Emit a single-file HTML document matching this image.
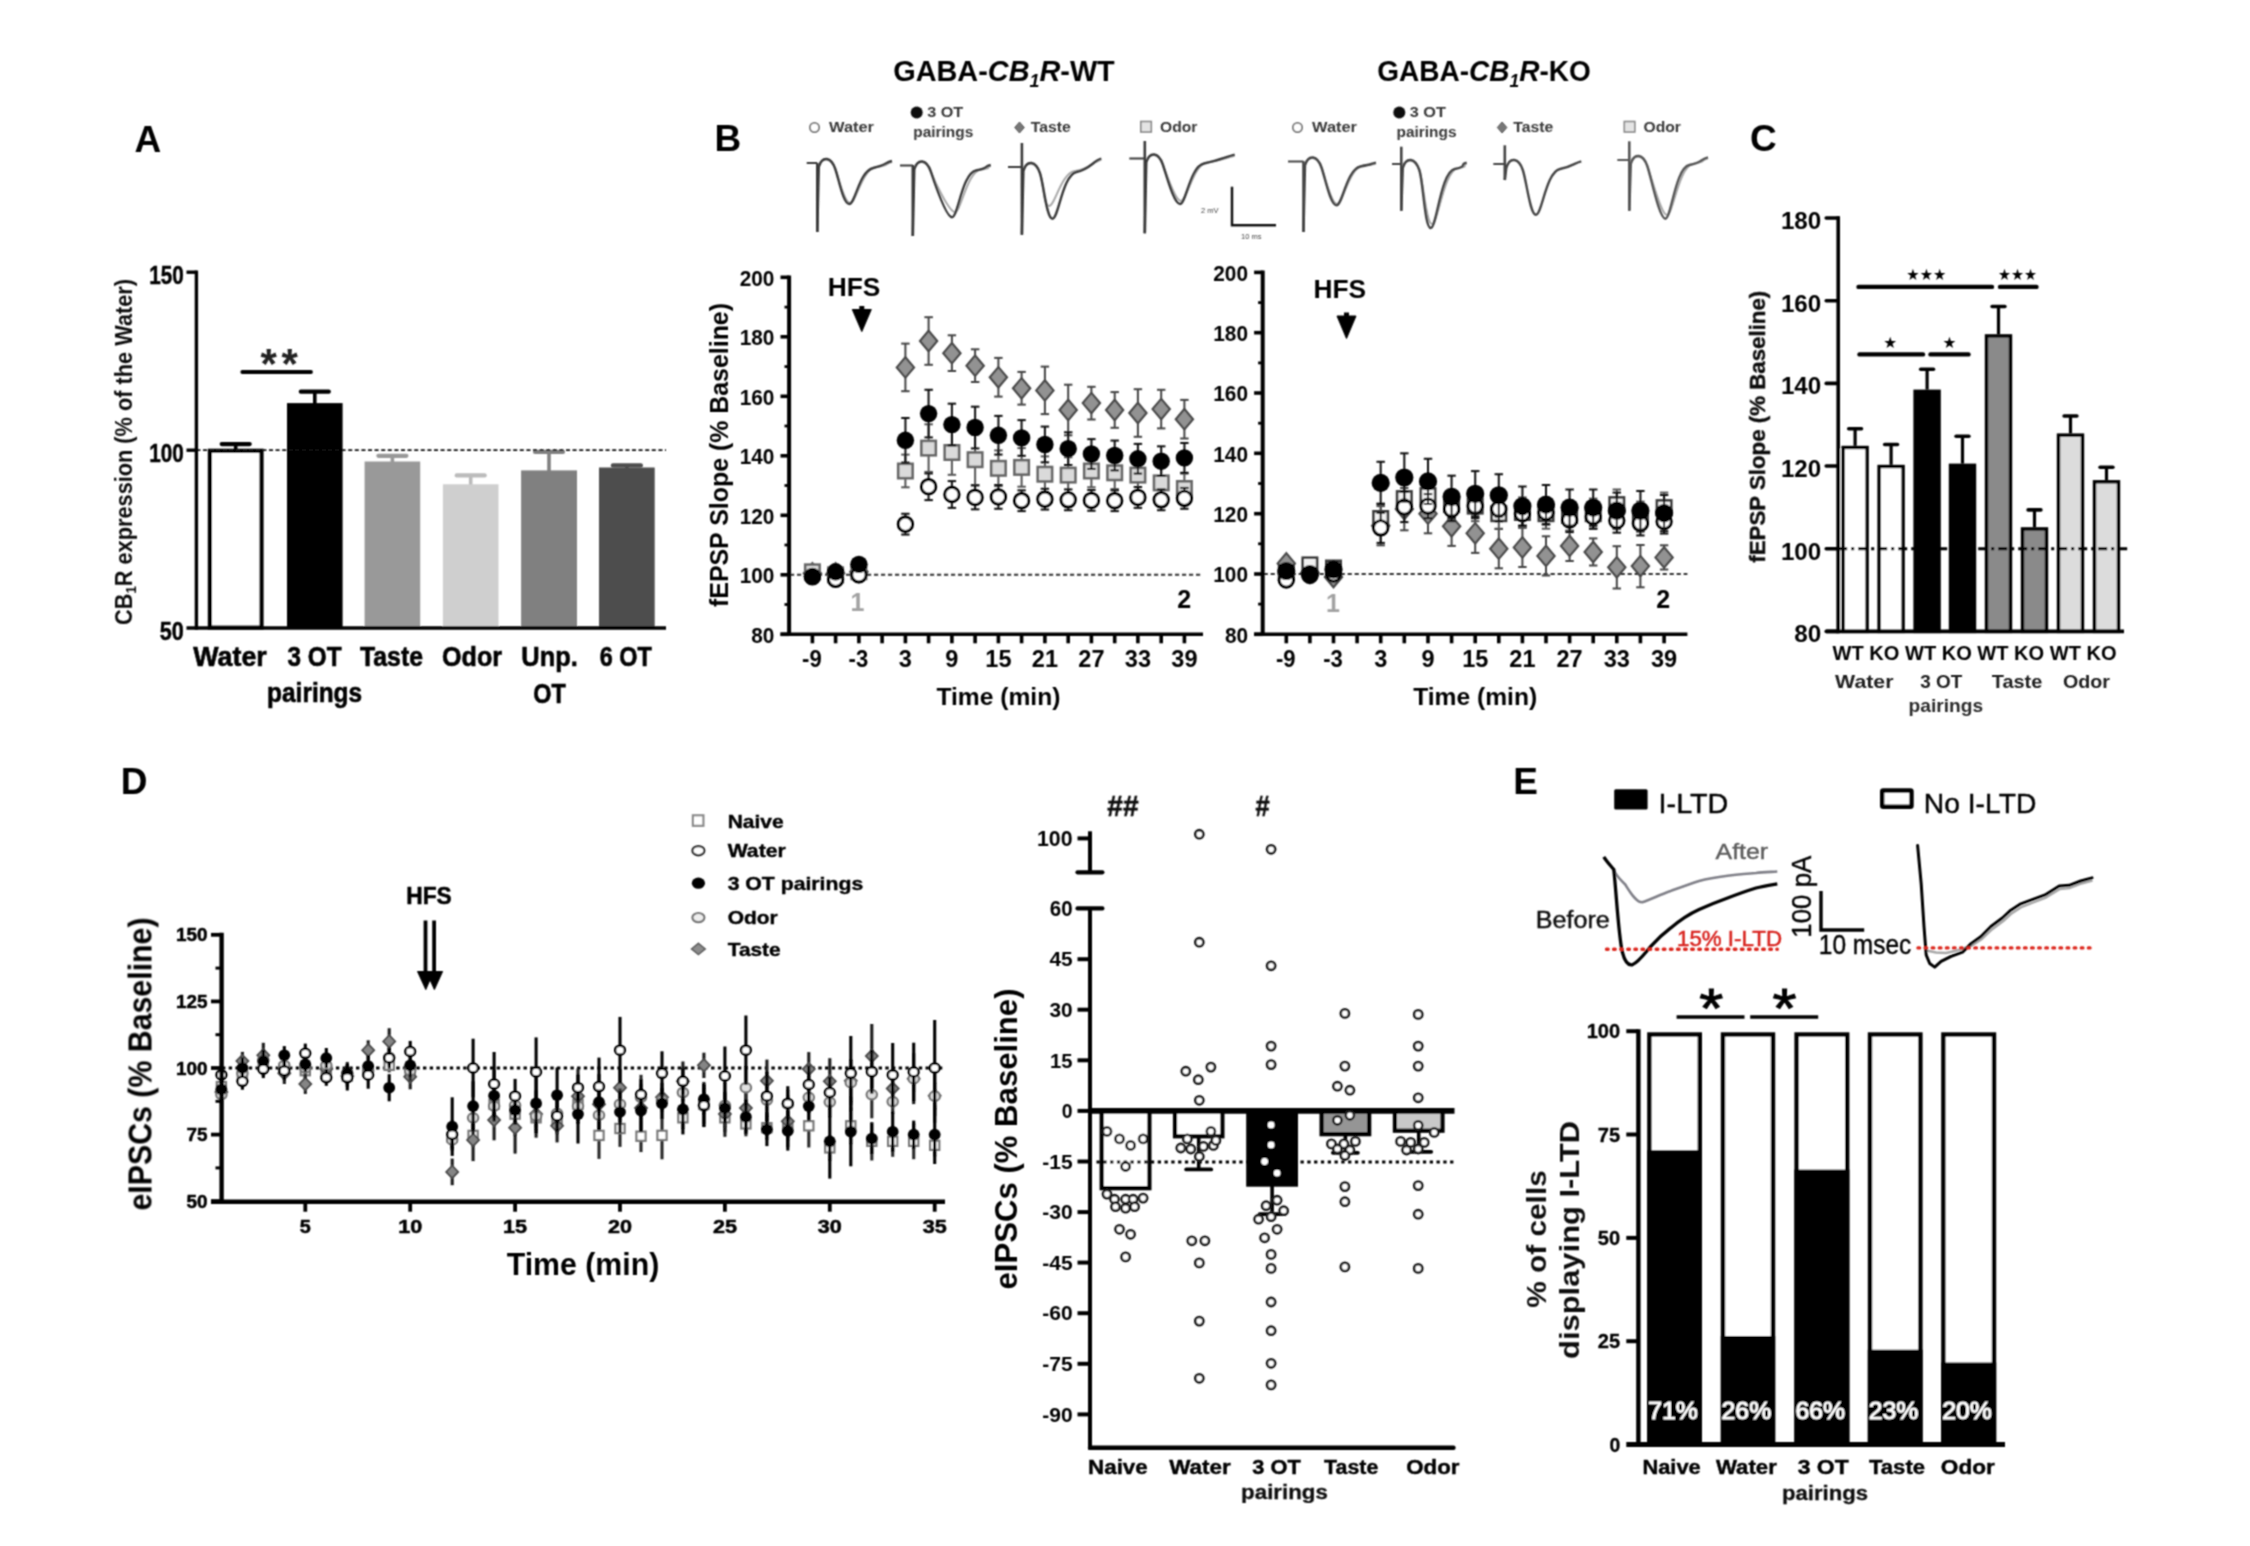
<!DOCTYPE html>
<html lang="en"><head><meta charset="utf-8"><title>Figure</title>
<style>
html,body{margin:0;padding:0;background:#fff;}
body{width:2250px;height:1546px;overflow:hidden;}
svg{display:block;font-family:"Liberation Sans", "DejaVu Sans", sans-serif;}
</style></head><body>
<svg width="2250" height="1546" viewBox="0 0 2250 1546">
<defs><filter id="soft" x="0" y="0" width="2250" height="1546" filterUnits="userSpaceOnUse"><feConvolveMatrix order="3" kernelMatrix="1 2 1 2 5 2 1 2 1" divisor="17" edgeMode="duplicate" preserveAlpha="false"/></filter></defs>
<rect x="0" y="0" width="2250" height="1546" fill="#fff"/>
<g filter="url(#soft)">
<text x="134.5" y="152.0" font-size="37" text-anchor="start" fill="#000" font-weight="bold">A</text>
<text x="714.6" y="151.2" font-size="37" text-anchor="start" fill="#000" font-weight="bold">B</text>
<text x="1750.0" y="151.2" font-size="37" text-anchor="start" fill="#000" font-weight="bold">C</text>
<text x="120.8" y="793.5" font-size="37" text-anchor="start" fill="#000" font-weight="bold">D</text>
<text x="1513.3" y="793.5" font-size="37" text-anchor="start" fill="#000" font-weight="bold">E</text>
<line x1="235.7" y1="444.1" x2="235.7" y2="450.7" stroke="#000" stroke-width="3.6" />
<line x1="221.7" y1="444.1" x2="249.7" y2="444.1" stroke="#000" stroke-width="4.2" stroke-linecap="round"/>
<rect x="209.9" y="450.8" width="51.6" height="176.7" fill="#fff" stroke="#000" stroke-width="4.2" />
<line x1="314.8" y1="391.7" x2="314.8" y2="405.1" stroke="#000" stroke-width="3.6" />
<line x1="300.8" y1="391.7" x2="328.8" y2="391.7" stroke="#000" stroke-width="4.2" stroke-linecap="round"/>
<rect x="287.0" y="403.1" width="55.6" height="224.9" fill="#000" />
<line x1="392.4" y1="455.8" x2="392.4" y2="463.5" stroke="#999" stroke-width="3.6" />
<line x1="378.4" y1="455.8" x2="406.4" y2="455.8" stroke="#999" stroke-width="4.2" stroke-linecap="round"/>
<rect x="364.6" y="461.5" width="55.6" height="166.5" fill="#999" />
<line x1="470.7" y1="475.4" x2="470.7" y2="486.3" stroke="#bbb" stroke-width="3.6" />
<line x1="456.7" y1="475.4" x2="484.7" y2="475.4" stroke="#bbb" stroke-width="4.2" stroke-linecap="round"/>
<rect x="442.9" y="484.3" width="55.6" height="143.7" fill="#cfcfcf" />
<line x1="549.0" y1="451.9" x2="549.0" y2="472.4" stroke="#808080" stroke-width="3.6" />
<line x1="535.0" y1="451.9" x2="563.0" y2="451.9" stroke="#808080" stroke-width="4.2" stroke-linecap="round"/>
<rect x="521.1" y="470.4" width="55.9" height="157.6" fill="#808080" />
<line x1="626.9" y1="465.4" x2="626.9" y2="469.5" stroke="#4d4d4d" stroke-width="3.6" />
<line x1="612.9" y1="465.4" x2="640.9" y2="465.4" stroke="#4d4d4d" stroke-width="4.2" stroke-linecap="round"/>
<rect x="599.0" y="467.5" width="55.7" height="160.5" fill="#4d4d4d" />
<line x1="196.4" y1="450.2" x2="666.0" y2="450.2" stroke="#111" stroke-width="1.8" stroke-dasharray="4 2.6"/>
<line x1="196.4" y1="270.5" x2="196.4" y2="629.7" stroke="#000" stroke-width="3.4" />
<line x1="186.5" y1="628.0" x2="666.0" y2="628.0" stroke="#000" stroke-width="3.6" />
<line x1="186.5" y1="272.2" x2="196.4" y2="272.2" stroke="#000" stroke-width="3.4" />
<line x1="186.5" y1="450.2" x2="196.4" y2="450.2" stroke="#000" stroke-width="3.4" />
<text x="183.8" y="284.2" font-size="26" text-anchor="end" fill="#000" font-weight="bold" textLength="34.5" lengthAdjust="spacingAndGlyphs" stroke="#000" stroke-width="0.5">150</text>
<text x="183.8" y="462.2" font-size="26" text-anchor="end" fill="#000" font-weight="bold" textLength="34.5" lengthAdjust="spacingAndGlyphs" stroke="#000" stroke-width="0.5">100</text>
<text x="183.8" y="640.0" font-size="26" text-anchor="end" fill="#000" font-weight="bold" textLength="24.0" lengthAdjust="spacingAndGlyphs" stroke="#000" stroke-width="0.5">50</text>
<line x1="242.3" y1="372.0" x2="311.0" y2="372.0" stroke="#000" stroke-width="3.8" stroke-linecap="round"/>
<text x="268.8" y="377.8" font-size="42" text-anchor="middle" fill="#222" font-weight="bold">*</text>
<text x="289.6" y="377.8" font-size="42" text-anchor="middle" fill="#222" font-weight="bold">*</text>
<text x="230.0" y="665.8" font-size="27" text-anchor="middle" fill="#000" font-weight="bold" textLength="73.4" lengthAdjust="spacingAndGlyphs" stroke="#000" stroke-width="0.6">Water</text>
<text x="314.6" y="665.8" font-size="27" text-anchor="middle" fill="#000" font-weight="bold" textLength="54.0" lengthAdjust="spacingAndGlyphs" stroke="#000" stroke-width="0.6">3 OT</text>
<text x="391.5" y="665.8" font-size="27" text-anchor="middle" fill="#000" font-weight="bold" textLength="63.0" lengthAdjust="spacingAndGlyphs" stroke="#000" stroke-width="0.6">Taste</text>
<text x="472.0" y="665.8" font-size="27" text-anchor="middle" fill="#000" font-weight="bold" textLength="60.0" lengthAdjust="spacingAndGlyphs" stroke="#000" stroke-width="0.6">Odor</text>
<text x="549.6" y="665.8" font-size="27" text-anchor="middle" fill="#000" font-weight="bold" textLength="56.5" lengthAdjust="spacingAndGlyphs" stroke="#000" stroke-width="0.6">Unp.</text>
<text x="625.8" y="665.8" font-size="27" text-anchor="middle" fill="#000" font-weight="bold" textLength="52.0" lengthAdjust="spacingAndGlyphs" stroke="#000" stroke-width="0.6">6 OT</text>
<text x="314.6" y="702.3" font-size="27" text-anchor="middle" fill="#000" font-weight="bold" textLength="95.0" lengthAdjust="spacingAndGlyphs" stroke="#000" stroke-width="0.6">pairings</text>
<text x="549.6" y="702.8" font-size="27" text-anchor="middle" fill="#000" font-weight="bold" textLength="32.5" lengthAdjust="spacingAndGlyphs" stroke="#000" stroke-width="0.6">OT</text>
<text x="131.8" y="452.0" font-size="23" text-anchor="middle" fill="#111" font-weight="bold" textLength="346.0" lengthAdjust="spacingAndGlyphs" transform="rotate(-90 131.8 452.0)">CB<tspan font-size="14" dy="4">1</tspan><tspan dy="-4">R expression (% of the Water)</tspan></text>
<text x="1004.0" y="81.3" font-size="29" text-anchor="middle" fill="#000" font-weight="bold" textLength="221.5" lengthAdjust="spacingAndGlyphs">GABA-<tspan font-style="italic">CB<tspan font-size="18" dy="6">1</tspan><tspan dy="-6">R</tspan></tspan>-WT</text>
<text x="1484.0" y="81.3" font-size="29" text-anchor="middle" fill="#000" font-weight="bold" textLength="213.5" lengthAdjust="spacingAndGlyphs">GABA-<tspan font-style="italic">CB<tspan font-size="18" dy="6">1</tspan><tspan dy="-6">R</tspan></tspan>-KO</text>
<path d="M819.3 163.0 C825.3 157.0 831.3 159.0 835.3 169.0 S844.0 203.0 850.0 203.0 S862.0 169.0 876.0 167.0 S884.0 164.0 892.0 162.0" fill="none" stroke="#aaa" stroke-width="2" />
<line x1="806.7" y1="163.0" x2="817.3" y2="163.0" stroke="#3a3a3a" stroke-width="2" />
<line x1="817.3" y1="163.0" x2="817.3" y2="232.0" stroke="#3a3a3a" stroke-width="2.6" />
<path d="M817.3 232.0 L818.8 167.0 C822.3 155.0 831.3 157.0 835.3 169.0 S843.3 204.0 849.3 204.0 S859.3 171.0 873.3 168.0 S884.0 163.0 892.0 161.0" fill="none" stroke="#3a3a3a" stroke-width="2.4" />
<path d="M914.8 165.5 C920.8 159.5 926.8 161.5 930.8 171.5 S949.0 212.0 955.0 212.0 S967.0 171.5 981.0 169.5 S982.7 168.0 990.7 166.0" fill="none" stroke="#aaa" stroke-width="2" />
<line x1="900.0" y1="165.5" x2="912.8" y2="165.5" stroke="#3a3a3a" stroke-width="2" />
<line x1="912.8" y1="165.0" x2="912.8" y2="236.0" stroke="#3a3a3a" stroke-width="2.6" />
<path d="M912.8 236.0 L914.3 169.5 C917.8 157.5 926.8 159.5 930.8 171.5 S946.0 217.3 952.0 217.3 S962.0 173.5 976.0 170.5 S982.7 167.0 990.7 165.0" fill="none" stroke="#3a3a3a" stroke-width="2.4" />
<path d="M1023.9 167.0 C1029.9 161.0 1035.9 163.0 1039.9 173.0 S1043.0 206.0 1049.0 206.0 S1061.0 173.0 1075.0 171.0 S1093.3 161.7 1101.3 159.7" fill="none" stroke="#aaa" stroke-width="2" />
<line x1="1008.0" y1="167.0" x2="1021.9" y2="167.0" stroke="#3a3a3a" stroke-width="2" />
<line x1="1021.9" y1="143.0" x2="1021.9" y2="234.7" stroke="#3a3a3a" stroke-width="2.6" />
<path d="M1021.9 234.7 L1023.4 171.0 C1026.9 159.0 1035.9 161.0 1039.9 173.0 S1046.5 218.7 1052.5 218.7 S1062.5 175.0 1076.5 172.0 S1093.3 160.7 1101.3 158.7" fill="none" stroke="#3a3a3a" stroke-width="2.4" />
<path d="M1146.8 158.5 C1152.8 152.5 1158.8 154.5 1162.8 164.5 S1175.0 201.0 1181.0 201.0 S1193.0 164.5 1207.0 162.5 S1226.7 157.7 1234.7 155.7" fill="none" stroke="#aaa" stroke-width="2" />
<line x1="1129.3" y1="158.5" x2="1144.8" y2="158.5" stroke="#3a3a3a" stroke-width="2" />
<line x1="1144.8" y1="141.0" x2="1144.8" y2="233.3" stroke="#3a3a3a" stroke-width="2.6" />
<path d="M1144.8 233.3 L1146.3 162.5 C1149.8 150.5 1158.8 152.5 1162.8 164.5 S1174.0 204.0 1180.0 204.0 S1190.0 166.5 1204.0 163.5 S1226.7 156.7 1234.7 154.7" fill="none" stroke="#3a3a3a" stroke-width="2.4" />
<path d="M1305.5 161.5 C1311.5 155.5 1317.5 157.5 1321.5 167.5 S1331.0 204.0 1337.0 204.0 S1349.0 167.5 1363.0 165.5 S1368.0 165.7 1376.0 163.7" fill="none" stroke="#aaa" stroke-width="2" />
<line x1="1288.0" y1="161.5" x2="1303.5" y2="161.5" stroke="#444" stroke-width="2" />
<line x1="1303.5" y1="161.3" x2="1303.5" y2="232.0" stroke="#444" stroke-width="2.6" />
<path d="M1303.5 232.0 L1305.0 165.5 C1308.5 153.5 1317.5 155.5 1321.5 167.5 S1330.5 205.3 1336.5 205.3 S1346.5 169.5 1360.5 166.5 S1368.0 164.7 1376.0 162.7" fill="none" stroke="#444" stroke-width="2.4" />
<path d="M1403.3 164.0 C1409.3 158.0 1415.3 160.0 1419.3 170.0 S1426.0 224.0 1432.0 224.0 S1444.0 170.0 1458.0 168.0 S1458.7 165.7 1466.7 163.7" fill="none" stroke="#aaa" stroke-width="2" />
<line x1="1392.0" y1="164.0" x2="1401.3" y2="164.0" stroke="#444" stroke-width="2" />
<line x1="1401.3" y1="146.7" x2="1401.3" y2="210.7" stroke="#444" stroke-width="2.6" />
<path d="M1401.3 210.7 L1402.8 168.0 C1406.3 156.0 1415.3 158.0 1419.3 170.0 S1424.7 228.0 1430.7 228.0 S1440.7 172.0 1454.7 169.0 S1458.7 164.7 1466.7 162.7" fill="none" stroke="#444" stroke-width="2.4" />
<line x1="1493.3" y1="164.0" x2="1504.8" y2="164.0" stroke="#444" stroke-width="2" />
<line x1="1504.8" y1="145.3" x2="1504.8" y2="180.0" stroke="#444" stroke-width="2.6" />
<path d="M1504.8 180.0 L1506.3 168.0 C1509.8 156.0 1518.8 158.0 1522.8 170.0 S1530.0 214.7 1536.0 214.7 S1546.0 172.0 1560.0 169.0 S1573.3 163.3 1581.3 161.3" fill="none" stroke="#444" stroke-width="2.4" />
<path d="M1631.3 160.0 C1637.3 154.0 1643.3 156.0 1647.3 166.0 S1661.0 215.0 1667.0 215.0 S1679.0 166.0 1693.0 164.0 S1700.0 160.3 1708.0 158.3" fill="none" stroke="#aaa" stroke-width="2" />
<line x1="1617.3" y1="160.0" x2="1629.3" y2="160.0" stroke="#555" stroke-width="2" />
<line x1="1629.3" y1="141.3" x2="1629.3" y2="210.7" stroke="#555" stroke-width="2.6" />
<path d="M1629.3 210.7 L1630.8 164.0 C1634.3 152.0 1643.3 154.0 1647.3 166.0 S1659.3 218.7 1665.3 218.7 S1675.3 168.0 1689.3 165.0 S1700.0 159.3 1708.0 157.3" fill="none" stroke="#555" stroke-width="2.4" />
<path d="M1232 186.7 L1232 225.3 L1276 225.3" fill="none" stroke="#111" stroke-width="2.4" />
<text x="1201.0" y="213.0" font-size="7.5" text-anchor="start" fill="#444">2 mV</text>
<text x="1241.0" y="239.0" font-size="7.5" text-anchor="start" fill="#444">10 ms</text>
<circle cx="814.5" cy="127.5" r="4.6" fill="#fff" stroke="#777" stroke-width="1.8"/>
<text x="829.0" y="132.0" font-size="14.5" text-anchor="start" fill="#1a1a1a" font-weight="bold" textLength="45.0" lengthAdjust="spacingAndGlyphs" opacity="0.88">Water</text>
<circle cx="916.7" cy="112.5" r="6" fill="#111"/>
<text x="927.2" y="117.3" font-size="14.5" text-anchor="start" fill="#1a1a1a" font-weight="bold" textLength="36.0" lengthAdjust="spacingAndGlyphs" opacity="0.88">3 OT</text>
<text x="913.3" y="137.3" font-size="14.5" text-anchor="start" fill="#1a1a1a" font-weight="bold" textLength="60.0" lengthAdjust="spacingAndGlyphs" opacity="0.88">pairings</text>
<path d="M1019.5 122.0L1024.3 127.5L1019.5 133.0L1014.7 127.5Z" fill="#777" stroke="#555" stroke-width="1"/>
<text x="1030.7" y="132.0" font-size="14.5" text-anchor="start" fill="#1a1a1a" font-weight="bold" textLength="40.0" lengthAdjust="spacingAndGlyphs" opacity="0.88">Taste</text>
<rect x="1140.8" y="121.5" width="10.5" height="10.5" fill="#e4e4e4" stroke="#888" stroke-width="1.6" />
<text x="1160.0" y="132.0" font-size="14.5" text-anchor="start" fill="#1a1a1a" font-weight="bold" textLength="37.3" lengthAdjust="spacingAndGlyphs" opacity="0.88">Odor</text>
<circle cx="1297.5" cy="127.5" r="4.6" fill="#fff" stroke="#777" stroke-width="1.8"/>
<text x="1312.0" y="132.0" font-size="14.5" text-anchor="start" fill="#1a1a1a" font-weight="bold" textLength="45.0" lengthAdjust="spacingAndGlyphs" opacity="0.88">Water</text>
<circle cx="1399.3" cy="112.5" r="6" fill="#111"/>
<text x="1409.8" y="117.3" font-size="14.5" text-anchor="start" fill="#1a1a1a" font-weight="bold" textLength="36.0" lengthAdjust="spacingAndGlyphs" opacity="0.88">3 OT</text>
<text x="1396.5" y="137.3" font-size="14.5" text-anchor="start" fill="#1a1a1a" font-weight="bold" textLength="60.0" lengthAdjust="spacingAndGlyphs" opacity="0.88">pairings</text>
<path d="M1502.1 122.0L1506.9 127.5L1502.1 133.0L1497.3 127.5Z" fill="#777" stroke="#555" stroke-width="1"/>
<text x="1513.3" y="132.0" font-size="14.5" text-anchor="start" fill="#1a1a1a" font-weight="bold" textLength="40.0" lengthAdjust="spacingAndGlyphs" opacity="0.88">Taste</text>
<rect x="1624.3" y="121.5" width="10.5" height="10.5" fill="#e4e4e4" stroke="#888" stroke-width="1.6" />
<text x="1643.5" y="132.0" font-size="14.5" text-anchor="start" fill="#1a1a1a" font-weight="bold" textLength="37.3" lengthAdjust="spacingAndGlyphs" opacity="0.88">Odor</text>
<line x1="790.0" y1="574.8" x2="1203.0" y2="574.8" stroke="#333" stroke-width="2.0" stroke-dasharray="4.2 2.8"/>
<path d="M812.4 563.1L821.0 573.3L812.4 583.5L803.8 573.3Z" fill="#929292" stroke="#484848" stroke-width="2.2"/>
<path d="M835.6 563.1L844.2 573.3L835.6 583.5L827.0 573.3Z" fill="#929292" stroke="#484848" stroke-width="2.2"/>
<path d="M858.9 561.6L867.5 571.8L858.9 582.0L850.3 571.8Z" fill="#929292" stroke="#484848" stroke-width="2.2"/>
<line x1="905.4" y1="343.6" x2="905.4" y2="391.2" stroke="#444" stroke-width="2.0" />
<line x1="901.2" y1="343.6" x2="909.6" y2="343.6" stroke="#444" stroke-width="2.0" />
<line x1="901.2" y1="391.2" x2="909.6" y2="391.2" stroke="#444" stroke-width="2.0" />
<path d="M905.4 357.2L914.0 367.4L905.4 377.6L896.8 367.4Z" fill="#929292" stroke="#484848" stroke-width="2.2"/>
<line x1="928.6" y1="317.2" x2="928.6" y2="364.8" stroke="#444" stroke-width="2.0" />
<line x1="924.4" y1="317.2" x2="932.9" y2="317.2" stroke="#444" stroke-width="2.0" />
<line x1="924.4" y1="364.8" x2="932.9" y2="364.8" stroke="#444" stroke-width="2.0" />
<path d="M928.6 330.8L937.2 341.0L928.6 351.2L920.0 341.0Z" fill="#929292" stroke="#484848" stroke-width="2.2"/>
<line x1="951.9" y1="335.3" x2="951.9" y2="371.0" stroke="#444" stroke-width="2.0" />
<line x1="947.7" y1="335.3" x2="956.1" y2="335.3" stroke="#444" stroke-width="2.0" />
<line x1="947.7" y1="371.0" x2="956.1" y2="371.0" stroke="#444" stroke-width="2.0" />
<path d="M951.9 343.0L960.5 353.2L951.9 363.4L943.3 353.2Z" fill="#929292" stroke="#484848" stroke-width="2.2"/>
<line x1="975.1" y1="349.3" x2="975.1" y2="382.0" stroke="#444" stroke-width="2.0" />
<line x1="970.9" y1="349.3" x2="979.4" y2="349.3" stroke="#444" stroke-width="2.0" />
<line x1="970.9" y1="382.0" x2="979.4" y2="382.0" stroke="#444" stroke-width="2.0" />
<path d="M975.1 355.5L983.8 365.7L975.1 375.9L966.5 365.7Z" fill="#929292" stroke="#484848" stroke-width="2.2"/>
<line x1="998.4" y1="357.9" x2="998.4" y2="396.6" stroke="#444" stroke-width="2.0" />
<line x1="994.2" y1="357.9" x2="1002.6" y2="357.9" stroke="#444" stroke-width="2.0" />
<line x1="994.2" y1="396.6" x2="1002.6" y2="396.6" stroke="#444" stroke-width="2.0" />
<path d="M998.4 367.1L1007.0 377.3L998.4 387.5L989.8 377.3Z" fill="#929292" stroke="#484848" stroke-width="2.2"/>
<line x1="1021.6" y1="371.9" x2="1021.6" y2="404.6" stroke="#444" stroke-width="2.0" />
<line x1="1017.4" y1="371.9" x2="1025.8" y2="371.9" stroke="#444" stroke-width="2.0" />
<line x1="1017.4" y1="404.6" x2="1025.8" y2="404.6" stroke="#444" stroke-width="2.0" />
<path d="M1021.6 378.1L1030.2 388.3L1021.6 398.5L1013.0 388.3Z" fill="#929292" stroke="#484848" stroke-width="2.2"/>
<line x1="1044.9" y1="366.6" x2="1044.9" y2="414.1" stroke="#444" stroke-width="2.0" />
<line x1="1040.7" y1="366.6" x2="1049.1" y2="366.6" stroke="#444" stroke-width="2.0" />
<line x1="1040.7" y1="414.1" x2="1049.1" y2="414.1" stroke="#444" stroke-width="2.0" />
<path d="M1044.9 380.2L1053.5 390.4L1044.9 400.6L1036.3 390.4Z" fill="#929292" stroke="#484848" stroke-width="2.2"/>
<line x1="1068.2" y1="384.7" x2="1068.2" y2="435.3" stroke="#444" stroke-width="2.0" />
<line x1="1064.0" y1="384.7" x2="1072.4" y2="384.7" stroke="#444" stroke-width="2.0" />
<line x1="1064.0" y1="435.3" x2="1072.4" y2="435.3" stroke="#444" stroke-width="2.0" />
<path d="M1068.2 399.8L1076.8 410.0L1068.2 420.2L1059.6 410.0Z" fill="#929292" stroke="#484848" stroke-width="2.2"/>
<line x1="1091.4" y1="386.8" x2="1091.4" y2="419.5" stroke="#444" stroke-width="2.0" />
<line x1="1087.2" y1="386.8" x2="1095.6" y2="386.8" stroke="#444" stroke-width="2.0" />
<line x1="1087.2" y1="419.5" x2="1095.6" y2="419.5" stroke="#444" stroke-width="2.0" />
<path d="M1091.4 392.9L1100.0 403.1L1091.4 413.3L1082.8 403.1Z" fill="#929292" stroke="#484848" stroke-width="2.2"/>
<line x1="1114.7" y1="392.1" x2="1114.7" y2="427.8" stroke="#444" stroke-width="2.0" />
<line x1="1110.5" y1="392.1" x2="1118.9" y2="392.1" stroke="#444" stroke-width="2.0" />
<line x1="1110.5" y1="427.8" x2="1118.9" y2="427.8" stroke="#444" stroke-width="2.0" />
<path d="M1114.7 399.8L1123.2 410.0L1114.7 420.2L1106.1 410.0Z" fill="#929292" stroke="#484848" stroke-width="2.2"/>
<line x1="1137.9" y1="389.2" x2="1137.9" y2="436.8" stroke="#444" stroke-width="2.0" />
<line x1="1133.7" y1="389.2" x2="1142.1" y2="389.2" stroke="#444" stroke-width="2.0" />
<line x1="1133.7" y1="436.8" x2="1142.1" y2="436.8" stroke="#444" stroke-width="2.0" />
<path d="M1137.9 402.8L1146.5 413.0L1137.9 423.2L1129.3 413.0Z" fill="#929292" stroke="#484848" stroke-width="2.2"/>
<line x1="1161.2" y1="389.8" x2="1161.2" y2="428.4" stroke="#444" stroke-width="2.0" />
<line x1="1157.0" y1="389.8" x2="1165.4" y2="389.8" stroke="#444" stroke-width="2.0" />
<line x1="1157.0" y1="428.4" x2="1165.4" y2="428.4" stroke="#444" stroke-width="2.0" />
<path d="M1161.2 398.9L1169.8 409.1L1161.2 419.3L1152.6 409.1Z" fill="#929292" stroke="#484848" stroke-width="2.2"/>
<line x1="1184.4" y1="399.9" x2="1184.4" y2="438.5" stroke="#444" stroke-width="2.0" />
<line x1="1180.2" y1="399.9" x2="1188.6" y2="399.9" stroke="#444" stroke-width="2.0" />
<line x1="1180.2" y1="438.5" x2="1188.6" y2="438.5" stroke="#444" stroke-width="2.0" />
<path d="M1184.4 409.0L1193.0 419.2L1184.4 429.4L1175.8 419.2Z" fill="#929292" stroke="#484848" stroke-width="2.2"/>
<rect x="805.2" y="564.6" width="14.4" height="14.4" fill="#dadada" stroke="#666" stroke-width="2.6" />
<rect x="828.4" y="567.6" width="14.4" height="14.4" fill="#dadada" stroke="#666" stroke-width="2.6" />
<rect x="851.7" y="564.6" width="14.4" height="14.4" fill="#dadada" stroke="#666" stroke-width="2.6" />
<line x1="905.4" y1="454.6" x2="905.4" y2="487.3" stroke="#555" stroke-width="2.0" />
<line x1="901.2" y1="454.6" x2="909.6" y2="454.6" stroke="#555" stroke-width="2.0" />
<line x1="901.2" y1="487.3" x2="909.6" y2="487.3" stroke="#555" stroke-width="2.0" />
<rect x="898.2" y="463.8" width="14.4" height="14.4" fill="#dadada" stroke="#666" stroke-width="2.6" />
<line x1="928.6" y1="424.3" x2="928.6" y2="471.9" stroke="#555" stroke-width="2.0" />
<line x1="924.4" y1="424.3" x2="932.9" y2="424.3" stroke="#555" stroke-width="2.0" />
<line x1="924.4" y1="471.9" x2="932.9" y2="471.9" stroke="#555" stroke-width="2.0" />
<rect x="921.4" y="440.9" width="14.4" height="14.4" fill="#dadada" stroke="#666" stroke-width="2.6" />
<line x1="951.9" y1="430.2" x2="951.9" y2="474.8" stroke="#555" stroke-width="2.0" />
<line x1="947.7" y1="430.2" x2="956.1" y2="430.2" stroke="#555" stroke-width="2.0" />
<line x1="947.7" y1="474.8" x2="956.1" y2="474.8" stroke="#555" stroke-width="2.0" />
<rect x="944.7" y="445.3" width="14.4" height="14.4" fill="#dadada" stroke="#666" stroke-width="2.6" />
<line x1="975.1" y1="434.4" x2="975.1" y2="485.0" stroke="#555" stroke-width="2.0" />
<line x1="970.9" y1="434.4" x2="979.4" y2="434.4" stroke="#555" stroke-width="2.0" />
<line x1="970.9" y1="485.0" x2="979.4" y2="485.0" stroke="#555" stroke-width="2.0" />
<rect x="967.9" y="452.5" width="14.4" height="14.4" fill="#dadada" stroke="#666" stroke-width="2.6" />
<line x1="998.4" y1="450.4" x2="998.4" y2="486.1" stroke="#555" stroke-width="2.0" />
<line x1="994.2" y1="450.4" x2="1002.6" y2="450.4" stroke="#555" stroke-width="2.0" />
<line x1="994.2" y1="486.1" x2="1002.6" y2="486.1" stroke="#555" stroke-width="2.0" />
<rect x="991.2" y="461.1" width="14.4" height="14.4" fill="#dadada" stroke="#666" stroke-width="2.6" />
<line x1="1021.6" y1="448.1" x2="1021.6" y2="486.7" stroke="#555" stroke-width="2.0" />
<line x1="1017.4" y1="448.1" x2="1025.8" y2="448.1" stroke="#555" stroke-width="2.0" />
<line x1="1017.4" y1="486.7" x2="1025.8" y2="486.7" stroke="#555" stroke-width="2.0" />
<rect x="1014.4" y="460.2" width="14.4" height="14.4" fill="#dadada" stroke="#666" stroke-width="2.6" />
<line x1="1044.9" y1="456.4" x2="1044.9" y2="492.1" stroke="#555" stroke-width="2.0" />
<line x1="1040.7" y1="456.4" x2="1049.1" y2="456.4" stroke="#555" stroke-width="2.0" />
<line x1="1040.7" y1="492.1" x2="1049.1" y2="492.1" stroke="#555" stroke-width="2.0" />
<rect x="1037.7" y="467.0" width="14.4" height="14.4" fill="#dadada" stroke="#666" stroke-width="2.6" />
<line x1="1068.2" y1="457.3" x2="1068.2" y2="493.0" stroke="#555" stroke-width="2.0" />
<line x1="1064.0" y1="457.3" x2="1072.4" y2="457.3" stroke="#555" stroke-width="2.0" />
<line x1="1064.0" y1="493.0" x2="1072.4" y2="493.0" stroke="#555" stroke-width="2.0" />
<rect x="1061.0" y="467.9" width="14.4" height="14.4" fill="#dadada" stroke="#666" stroke-width="2.6" />
<line x1="1091.4" y1="454.6" x2="1091.4" y2="487.3" stroke="#555" stroke-width="2.0" />
<line x1="1087.2" y1="454.6" x2="1095.6" y2="454.6" stroke="#555" stroke-width="2.0" />
<line x1="1087.2" y1="487.3" x2="1095.6" y2="487.3" stroke="#555" stroke-width="2.0" />
<rect x="1084.2" y="463.8" width="14.4" height="14.4" fill="#dadada" stroke="#666" stroke-width="2.6" />
<line x1="1114.7" y1="456.4" x2="1114.7" y2="489.1" stroke="#555" stroke-width="2.0" />
<line x1="1110.5" y1="456.4" x2="1118.9" y2="456.4" stroke="#555" stroke-width="2.0" />
<line x1="1110.5" y1="489.1" x2="1118.9" y2="489.1" stroke="#555" stroke-width="2.0" />
<rect x="1107.5" y="465.6" width="14.4" height="14.4" fill="#dadada" stroke="#666" stroke-width="2.6" />
<line x1="1137.9" y1="458.8" x2="1137.9" y2="491.5" stroke="#555" stroke-width="2.0" />
<line x1="1133.7" y1="458.8" x2="1142.1" y2="458.8" stroke="#555" stroke-width="2.0" />
<line x1="1133.7" y1="491.5" x2="1142.1" y2="491.5" stroke="#555" stroke-width="2.0" />
<rect x="1130.7" y="467.9" width="14.4" height="14.4" fill="#dadada" stroke="#666" stroke-width="2.6" />
<line x1="1161.2" y1="468.0" x2="1161.2" y2="497.7" stroke="#555" stroke-width="2.0" />
<line x1="1157.0" y1="468.0" x2="1165.4" y2="468.0" stroke="#555" stroke-width="2.0" />
<line x1="1157.0" y1="497.7" x2="1165.4" y2="497.7" stroke="#555" stroke-width="2.0" />
<rect x="1154.0" y="475.7" width="14.4" height="14.4" fill="#dadada" stroke="#666" stroke-width="2.6" />
<line x1="1184.4" y1="473.6" x2="1184.4" y2="503.4" stroke="#555" stroke-width="2.0" />
<line x1="1180.2" y1="473.6" x2="1188.6" y2="473.6" stroke="#555" stroke-width="2.0" />
<line x1="1180.2" y1="503.4" x2="1188.6" y2="503.4" stroke="#555" stroke-width="2.0" />
<rect x="1177.2" y="481.3" width="14.4" height="14.4" fill="#dadada" stroke="#666" stroke-width="2.6" />
<ellipse cx="812.4" cy="576.3" rx="7.2" ry="7.2" fill="#fff" stroke="#000" stroke-width="2.9"/>
<ellipse cx="835.6" cy="579.3" rx="7.2" ry="7.2" fill="#fff" stroke="#000" stroke-width="2.9"/>
<ellipse cx="858.9" cy="574.8" rx="7.2" ry="7.2" fill="#fff" stroke="#000" stroke-width="2.9"/>
<line x1="905.4" y1="513.8" x2="905.4" y2="534.6" stroke="#111" stroke-width="2.0" />
<line x1="901.2" y1="513.8" x2="909.6" y2="513.8" stroke="#111" stroke-width="2.0" />
<line x1="901.2" y1="534.6" x2="909.6" y2="534.6" stroke="#111" stroke-width="2.0" />
<ellipse cx="905.4" cy="524.2" rx="7.2" ry="7.2" fill="#fff" stroke="#000" stroke-width="2.9"/>
<line x1="928.6" y1="473.4" x2="928.6" y2="500.1" stroke="#111" stroke-width="2.0" />
<line x1="924.4" y1="473.4" x2="932.9" y2="473.4" stroke="#111" stroke-width="2.0" />
<line x1="924.4" y1="500.1" x2="932.9" y2="500.1" stroke="#111" stroke-width="2.0" />
<ellipse cx="928.6" cy="486.7" rx="7.2" ry="7.2" fill="#fff" stroke="#000" stroke-width="2.9"/>
<line x1="951.9" y1="481.1" x2="951.9" y2="507.9" stroke="#111" stroke-width="2.0" />
<line x1="947.7" y1="481.1" x2="956.1" y2="481.1" stroke="#111" stroke-width="2.0" />
<line x1="947.7" y1="507.9" x2="956.1" y2="507.9" stroke="#111" stroke-width="2.0" />
<ellipse cx="951.9" cy="494.5" rx="7.2" ry="7.2" fill="#fff" stroke="#000" stroke-width="2.9"/>
<line x1="975.1" y1="485.5" x2="975.1" y2="509.3" stroke="#111" stroke-width="2.0" />
<line x1="970.9" y1="485.5" x2="979.4" y2="485.5" stroke="#111" stroke-width="2.0" />
<line x1="970.9" y1="509.3" x2="979.4" y2="509.3" stroke="#111" stroke-width="2.0" />
<ellipse cx="975.1" cy="497.4" rx="7.2" ry="7.2" fill="#fff" stroke="#000" stroke-width="2.9"/>
<line x1="998.4" y1="485.0" x2="998.4" y2="508.8" stroke="#111" stroke-width="2.0" />
<line x1="994.2" y1="485.0" x2="1002.6" y2="485.0" stroke="#111" stroke-width="2.0" />
<line x1="994.2" y1="508.8" x2="1002.6" y2="508.8" stroke="#111" stroke-width="2.0" />
<ellipse cx="998.4" cy="496.9" rx="7.2" ry="7.2" fill="#fff" stroke="#000" stroke-width="2.9"/>
<line x1="1021.6" y1="490.3" x2="1021.6" y2="511.1" stroke="#111" stroke-width="2.0" />
<line x1="1017.4" y1="490.3" x2="1025.8" y2="490.3" stroke="#111" stroke-width="2.0" />
<line x1="1017.4" y1="511.1" x2="1025.8" y2="511.1" stroke="#111" stroke-width="2.0" />
<ellipse cx="1021.6" cy="500.7" rx="7.2" ry="7.2" fill="#fff" stroke="#000" stroke-width="2.9"/>
<line x1="1044.9" y1="488.8" x2="1044.9" y2="509.6" stroke="#111" stroke-width="2.0" />
<line x1="1040.7" y1="488.8" x2="1049.1" y2="488.8" stroke="#111" stroke-width="2.0" />
<line x1="1040.7" y1="509.6" x2="1049.1" y2="509.6" stroke="#111" stroke-width="2.0" />
<ellipse cx="1044.9" cy="499.2" rx="7.2" ry="7.2" fill="#fff" stroke="#000" stroke-width="2.9"/>
<line x1="1068.2" y1="489.4" x2="1068.2" y2="510.2" stroke="#111" stroke-width="2.0" />
<line x1="1064.0" y1="489.4" x2="1072.4" y2="489.4" stroke="#111" stroke-width="2.0" />
<line x1="1064.0" y1="510.2" x2="1072.4" y2="510.2" stroke="#111" stroke-width="2.0" />
<ellipse cx="1068.2" cy="499.8" rx="7.2" ry="7.2" fill="#fff" stroke="#000" stroke-width="2.9"/>
<line x1="1091.4" y1="490.0" x2="1091.4" y2="510.8" stroke="#111" stroke-width="2.0" />
<line x1="1087.2" y1="490.0" x2="1095.6" y2="490.0" stroke="#111" stroke-width="2.0" />
<line x1="1087.2" y1="510.8" x2="1095.6" y2="510.8" stroke="#111" stroke-width="2.0" />
<ellipse cx="1091.4" cy="500.4" rx="7.2" ry="7.2" fill="#fff" stroke="#000" stroke-width="2.9"/>
<line x1="1114.7" y1="490.3" x2="1114.7" y2="511.1" stroke="#111" stroke-width="2.0" />
<line x1="1110.5" y1="490.3" x2="1118.9" y2="490.3" stroke="#111" stroke-width="2.0" />
<line x1="1110.5" y1="511.1" x2="1118.9" y2="511.1" stroke="#111" stroke-width="2.0" />
<ellipse cx="1114.7" cy="500.7" rx="7.2" ry="7.2" fill="#fff" stroke="#000" stroke-width="2.9"/>
<line x1="1137.9" y1="487.0" x2="1137.9" y2="507.9" stroke="#111" stroke-width="2.0" />
<line x1="1133.7" y1="487.0" x2="1142.1" y2="487.0" stroke="#111" stroke-width="2.0" />
<line x1="1133.7" y1="507.9" x2="1142.1" y2="507.9" stroke="#111" stroke-width="2.0" />
<ellipse cx="1137.9" cy="497.4" rx="7.2" ry="7.2" fill="#fff" stroke="#000" stroke-width="2.9"/>
<line x1="1161.2" y1="489.4" x2="1161.2" y2="510.2" stroke="#111" stroke-width="2.0" />
<line x1="1157.0" y1="489.4" x2="1165.4" y2="489.4" stroke="#111" stroke-width="2.0" />
<line x1="1157.0" y1="510.2" x2="1165.4" y2="510.2" stroke="#111" stroke-width="2.0" />
<ellipse cx="1161.2" cy="499.8" rx="7.2" ry="7.2" fill="#fff" stroke="#000" stroke-width="2.9"/>
<line x1="1184.4" y1="487.9" x2="1184.4" y2="508.8" stroke="#111" stroke-width="2.0" />
<line x1="1180.2" y1="487.9" x2="1188.6" y2="487.9" stroke="#111" stroke-width="2.0" />
<line x1="1180.2" y1="508.8" x2="1188.6" y2="508.8" stroke="#111" stroke-width="2.0" />
<ellipse cx="1184.4" cy="498.3" rx="7.2" ry="7.2" fill="#fff" stroke="#000" stroke-width="2.9"/>
<circle cx="812.4" cy="576.9" r="8.7" fill="#000"/>
<circle cx="835.6" cy="571.8" r="8.7" fill="#000"/>
<circle cx="858.9" cy="564.4" r="8.7" fill="#000"/>
<line x1="905.4" y1="418.0" x2="905.4" y2="462.6" stroke="#111" stroke-width="2.0" />
<line x1="901.2" y1="418.0" x2="909.6" y2="418.0" stroke="#111" stroke-width="2.0" />
<line x1="901.2" y1="462.6" x2="909.6" y2="462.6" stroke="#111" stroke-width="2.0" />
<circle cx="905.4" cy="440.3" r="8.7" fill="#000"/>
<line x1="928.6" y1="389.8" x2="928.6" y2="437.4" stroke="#111" stroke-width="2.0" />
<line x1="924.4" y1="389.8" x2="932.9" y2="389.8" stroke="#111" stroke-width="2.0" />
<line x1="924.4" y1="437.4" x2="932.9" y2="437.4" stroke="#111" stroke-width="2.0" />
<circle cx="928.6" cy="413.6" r="8.7" fill="#000"/>
<line x1="951.9" y1="403.7" x2="951.9" y2="445.4" stroke="#111" stroke-width="2.0" />
<line x1="947.7" y1="403.7" x2="956.1" y2="403.7" stroke="#111" stroke-width="2.0" />
<line x1="947.7" y1="445.4" x2="956.1" y2="445.4" stroke="#111" stroke-width="2.0" />
<circle cx="951.9" cy="424.6" r="8.7" fill="#000"/>
<line x1="975.1" y1="406.7" x2="975.1" y2="448.4" stroke="#111" stroke-width="2.0" />
<line x1="970.9" y1="406.7" x2="979.4" y2="406.7" stroke="#111" stroke-width="2.0" />
<line x1="970.9" y1="448.4" x2="979.4" y2="448.4" stroke="#111" stroke-width="2.0" />
<circle cx="975.1" cy="427.5" r="8.7" fill="#000"/>
<line x1="998.4" y1="415.9" x2="998.4" y2="454.6" stroke="#111" stroke-width="2.0" />
<line x1="994.2" y1="415.9" x2="1002.6" y2="415.9" stroke="#111" stroke-width="2.0" />
<line x1="994.2" y1="454.6" x2="1002.6" y2="454.6" stroke="#111" stroke-width="2.0" />
<circle cx="998.4" cy="435.3" r="8.7" fill="#000"/>
<line x1="1021.6" y1="420.1" x2="1021.6" y2="455.8" stroke="#111" stroke-width="2.0" />
<line x1="1017.4" y1="420.1" x2="1025.8" y2="420.1" stroke="#111" stroke-width="2.0" />
<line x1="1017.4" y1="455.8" x2="1025.8" y2="455.8" stroke="#111" stroke-width="2.0" />
<circle cx="1021.6" cy="437.9" r="8.7" fill="#000"/>
<line x1="1044.9" y1="426.6" x2="1044.9" y2="462.3" stroke="#111" stroke-width="2.0" />
<line x1="1040.7" y1="426.6" x2="1049.1" y2="426.6" stroke="#111" stroke-width="2.0" />
<line x1="1040.7" y1="462.3" x2="1049.1" y2="462.3" stroke="#111" stroke-width="2.0" />
<circle cx="1044.9" cy="444.5" r="8.7" fill="#000"/>
<line x1="1068.2" y1="432.3" x2="1068.2" y2="465.0" stroke="#111" stroke-width="2.0" />
<line x1="1064.0" y1="432.3" x2="1072.4" y2="432.3" stroke="#111" stroke-width="2.0" />
<line x1="1064.0" y1="465.0" x2="1072.4" y2="465.0" stroke="#111" stroke-width="2.0" />
<circle cx="1068.2" cy="448.7" r="8.7" fill="#000"/>
<line x1="1091.4" y1="439.1" x2="1091.4" y2="468.9" stroke="#111" stroke-width="2.0" />
<line x1="1087.2" y1="439.1" x2="1095.6" y2="439.1" stroke="#111" stroke-width="2.0" />
<line x1="1087.2" y1="468.9" x2="1095.6" y2="468.9" stroke="#111" stroke-width="2.0" />
<circle cx="1091.4" cy="454.0" r="8.7" fill="#000"/>
<line x1="1114.7" y1="440.6" x2="1114.7" y2="470.4" stroke="#111" stroke-width="2.0" />
<line x1="1110.5" y1="440.6" x2="1118.9" y2="440.6" stroke="#111" stroke-width="2.0" />
<line x1="1110.5" y1="470.4" x2="1118.9" y2="470.4" stroke="#111" stroke-width="2.0" />
<circle cx="1114.7" cy="455.5" r="8.7" fill="#000"/>
<line x1="1137.9" y1="443.9" x2="1137.9" y2="473.6" stroke="#111" stroke-width="2.0" />
<line x1="1133.7" y1="443.9" x2="1142.1" y2="443.9" stroke="#111" stroke-width="2.0" />
<line x1="1133.7" y1="473.6" x2="1142.1" y2="473.6" stroke="#111" stroke-width="2.0" />
<circle cx="1137.9" cy="458.8" r="8.7" fill="#000"/>
<line x1="1161.2" y1="446.3" x2="1161.2" y2="476.0" stroke="#111" stroke-width="2.0" />
<line x1="1157.0" y1="446.3" x2="1165.4" y2="446.3" stroke="#111" stroke-width="2.0" />
<line x1="1157.0" y1="476.0" x2="1165.4" y2="476.0" stroke="#111" stroke-width="2.0" />
<circle cx="1161.2" cy="461.2" r="8.7" fill="#000"/>
<line x1="1184.4" y1="443.0" x2="1184.4" y2="472.8" stroke="#111" stroke-width="2.0" />
<line x1="1180.2" y1="443.0" x2="1188.6" y2="443.0" stroke="#111" stroke-width="2.0" />
<line x1="1180.2" y1="472.8" x2="1188.6" y2="472.8" stroke="#111" stroke-width="2.0" />
<circle cx="1184.4" cy="457.9" r="8.7" fill="#000"/>
<line x1="789.1" y1="275.5" x2="789.1" y2="636.1" stroke="#000" stroke-width="4.0" />
<line x1="780.5" y1="634.3" x2="1203.0" y2="634.3" stroke="#000" stroke-width="3.6" />
<line x1="780.5" y1="634.3" x2="789.1" y2="634.3" stroke="#000" stroke-width="3.6" />
<text x="774.4" y="642.7" font-size="22.5" text-anchor="end" fill="#000" font-weight="bold" textLength="23.1" lengthAdjust="spacingAndGlyphs">80</text>
<line x1="780.5" y1="574.8" x2="789.1" y2="574.8" stroke="#000" stroke-width="3.6" />
<text x="774.4" y="583.2" font-size="22.5" text-anchor="end" fill="#000" font-weight="bold" textLength="34.7" lengthAdjust="spacingAndGlyphs">100</text>
<line x1="780.5" y1="515.3" x2="789.1" y2="515.3" stroke="#000" stroke-width="3.6" />
<text x="774.4" y="523.7" font-size="22.5" text-anchor="end" fill="#000" font-weight="bold" textLength="34.7" lengthAdjust="spacingAndGlyphs">120</text>
<line x1="780.5" y1="455.8" x2="789.1" y2="455.8" stroke="#000" stroke-width="3.6" />
<text x="774.4" y="464.2" font-size="22.5" text-anchor="end" fill="#000" font-weight="bold" textLength="34.7" lengthAdjust="spacingAndGlyphs">140</text>
<line x1="780.5" y1="396.3" x2="789.1" y2="396.3" stroke="#000" stroke-width="3.6" />
<text x="774.4" y="404.7" font-size="22.5" text-anchor="end" fill="#000" font-weight="bold" textLength="34.7" lengthAdjust="spacingAndGlyphs">160</text>
<line x1="780.5" y1="336.8" x2="789.1" y2="336.8" stroke="#000" stroke-width="3.6" />
<text x="774.4" y="345.2" font-size="22.5" text-anchor="end" fill="#000" font-weight="bold" textLength="34.7" lengthAdjust="spacingAndGlyphs">180</text>
<line x1="780.5" y1="277.3" x2="789.1" y2="277.3" stroke="#000" stroke-width="3.6" />
<text x="774.4" y="285.7" font-size="22.5" text-anchor="end" fill="#000" font-weight="bold" textLength="34.7" lengthAdjust="spacingAndGlyphs">200</text>
<line x1="784.5" y1="604.5" x2="789.1" y2="604.5" stroke="#000" stroke-width="2.8" />
<line x1="784.5" y1="545.0" x2="789.1" y2="545.0" stroke="#000" stroke-width="2.8" />
<line x1="784.5" y1="485.5" x2="789.1" y2="485.5" stroke="#000" stroke-width="2.8" />
<line x1="784.5" y1="426.0" x2="789.1" y2="426.0" stroke="#000" stroke-width="2.8" />
<line x1="784.5" y1="366.6" x2="789.1" y2="366.6" stroke="#000" stroke-width="2.8" />
<line x1="784.5" y1="307.1" x2="789.1" y2="307.1" stroke="#000" stroke-width="2.8" />
<line x1="812.4" y1="634.3" x2="812.4" y2="643.3" stroke="#000" stroke-width="3.6" />
<line x1="835.6" y1="634.3" x2="835.6" y2="643.3" stroke="#000" stroke-width="3.6" />
<line x1="858.9" y1="634.3" x2="858.9" y2="643.3" stroke="#000" stroke-width="3.6" />
<line x1="882.1" y1="634.3" x2="882.1" y2="643.3" stroke="#000" stroke-width="3.6" />
<line x1="905.4" y1="634.3" x2="905.4" y2="643.3" stroke="#000" stroke-width="3.6" />
<line x1="928.6" y1="634.3" x2="928.6" y2="643.3" stroke="#000" stroke-width="3.6" />
<line x1="951.9" y1="634.3" x2="951.9" y2="643.3" stroke="#000" stroke-width="3.6" />
<line x1="975.1" y1="634.3" x2="975.1" y2="643.3" stroke="#000" stroke-width="3.6" />
<line x1="998.4" y1="634.3" x2="998.4" y2="643.3" stroke="#000" stroke-width="3.6" />
<line x1="1021.6" y1="634.3" x2="1021.6" y2="643.3" stroke="#000" stroke-width="3.6" />
<line x1="1044.9" y1="634.3" x2="1044.9" y2="643.3" stroke="#000" stroke-width="3.6" />
<line x1="1068.2" y1="634.3" x2="1068.2" y2="643.3" stroke="#000" stroke-width="3.6" />
<line x1="1091.4" y1="634.3" x2="1091.4" y2="643.3" stroke="#000" stroke-width="3.6" />
<line x1="1114.7" y1="634.3" x2="1114.7" y2="643.3" stroke="#000" stroke-width="3.6" />
<line x1="1137.9" y1="634.3" x2="1137.9" y2="643.3" stroke="#000" stroke-width="3.6" />
<line x1="1161.2" y1="634.3" x2="1161.2" y2="643.3" stroke="#000" stroke-width="3.6" />
<line x1="1184.4" y1="634.3" x2="1184.4" y2="643.3" stroke="#000" stroke-width="3.6" />
<text x="811.9" y="667.3" font-size="23.5" text-anchor="middle" fill="#000" font-weight="bold" textLength="19.6" lengthAdjust="spacingAndGlyphs">-9</text>
<text x="858.4" y="667.3" font-size="23.5" text-anchor="middle" fill="#000" font-weight="bold" textLength="19.6" lengthAdjust="spacingAndGlyphs">-3</text>
<text x="905.4" y="667.3" font-size="23.5" text-anchor="middle" fill="#000" font-weight="bold">3</text>
<text x="951.9" y="667.3" font-size="23.5" text-anchor="middle" fill="#000" font-weight="bold">9</text>
<text x="998.4" y="667.3" font-size="23.5" text-anchor="middle" fill="#000" font-weight="bold">15</text>
<text x="1044.9" y="667.3" font-size="23.5" text-anchor="middle" fill="#000" font-weight="bold">21</text>
<text x="1091.4" y="667.3" font-size="23.5" text-anchor="middle" fill="#000" font-weight="bold">27</text>
<text x="1137.9" y="667.3" font-size="23.5" text-anchor="middle" fill="#000" font-weight="bold">33</text>
<text x="1184.4" y="667.3" font-size="23.5" text-anchor="middle" fill="#000" font-weight="bold">39</text>
<text x="998.4" y="704.8" font-size="24" text-anchor="middle" fill="#000" font-weight="bold" textLength="124.0" lengthAdjust="spacingAndGlyphs">Time (min)</text>
<text x="854.0" y="295.8" font-size="26" text-anchor="middle" fill="#000" font-weight="bold" textLength="52.6" lengthAdjust="spacingAndGlyphs">HFS</text>
<path d="M852.3 309.5 L871.3 309.5 L861.8 331.6 Z" fill="#000" stroke="#000" stroke-width="1" />
<line x1="861.8" y1="306.0" x2="861.8" y2="311.5" stroke="#000" stroke-width="5" />
<text x="857.5" y="610.5" font-size="25" text-anchor="middle" fill="#a2a2a2" font-weight="bold">1</text>
<text x="1184.3" y="608.0" font-size="25" text-anchor="middle" fill="#000" font-weight="bold">2</text>
<text x="727.7" y="455.0" font-size="26.5" text-anchor="middle" fill="#000" font-weight="bold" textLength="304.0" lengthAdjust="spacingAndGlyphs" transform="rotate(-90 727.7 455.0)">fEPSP Slope (% Baseline)</text>
<line x1="1263.6" y1="574.0" x2="1687.4" y2="574.0" stroke="#333" stroke-width="2.0" stroke-dasharray="4.2 2.8"/>
<path d="M1286.3 553.2L1294.9 563.4L1286.3 573.6L1277.7 563.4Z" fill="#929292" stroke="#484848" stroke-width="2.2"/>
<path d="M1309.9 562.3L1318.5 572.5L1309.9 582.7L1301.3 572.5Z" fill="#929292" stroke="#484848" stroke-width="2.2"/>
<path d="M1333.5 566.8L1342.1 577.0L1333.5 587.2L1324.9 577.0Z" fill="#929292" stroke="#484848" stroke-width="2.2"/>
<line x1="1380.7" y1="506.1" x2="1380.7" y2="545.3" stroke="#444" stroke-width="2.0" />
<line x1="1376.5" y1="506.1" x2="1384.9" y2="506.1" stroke="#444" stroke-width="2.0" />
<line x1="1376.5" y1="545.3" x2="1384.9" y2="545.3" stroke="#444" stroke-width="2.0" />
<path d="M1380.7 515.5L1389.3 525.7L1380.7 535.9L1372.1 525.7Z" fill="#929292" stroke="#484848" stroke-width="2.2"/>
<line x1="1404.3" y1="488.0" x2="1404.3" y2="530.3" stroke="#444" stroke-width="2.0" />
<line x1="1400.1" y1="488.0" x2="1408.5" y2="488.0" stroke="#444" stroke-width="2.0" />
<line x1="1400.1" y1="530.3" x2="1408.5" y2="530.3" stroke="#444" stroke-width="2.0" />
<path d="M1404.3 498.9L1412.9 509.1L1404.3 519.3L1395.8 509.1Z" fill="#929292" stroke="#484848" stroke-width="2.2"/>
<line x1="1428.0" y1="494.1" x2="1428.0" y2="533.3" stroke="#444" stroke-width="2.0" />
<line x1="1423.8" y1="494.1" x2="1432.2" y2="494.1" stroke="#444" stroke-width="2.0" />
<line x1="1423.8" y1="533.3" x2="1432.2" y2="533.3" stroke="#444" stroke-width="2.0" />
<path d="M1428.0 503.5L1436.6 513.7L1428.0 523.9L1419.4 513.7Z" fill="#929292" stroke="#484848" stroke-width="2.2"/>
<line x1="1451.6" y1="506.7" x2="1451.6" y2="545.9" stroke="#444" stroke-width="2.0" />
<line x1="1447.4" y1="506.7" x2="1455.8" y2="506.7" stroke="#444" stroke-width="2.0" />
<line x1="1447.4" y1="545.9" x2="1455.8" y2="545.9" stroke="#444" stroke-width="2.0" />
<path d="M1451.6 516.1L1460.2 526.3L1451.6 536.5L1443.0 526.3Z" fill="#929292" stroke="#484848" stroke-width="2.2"/>
<line x1="1475.2" y1="513.7" x2="1475.2" y2="552.9" stroke="#444" stroke-width="2.0" />
<line x1="1471.0" y1="513.7" x2="1479.4" y2="513.7" stroke="#444" stroke-width="2.0" />
<line x1="1471.0" y1="552.9" x2="1479.4" y2="552.9" stroke="#444" stroke-width="2.0" />
<path d="M1475.2 523.1L1483.8 533.3L1475.2 543.5L1466.6 533.3Z" fill="#929292" stroke="#484848" stroke-width="2.2"/>
<line x1="1498.8" y1="529.0" x2="1498.8" y2="568.3" stroke="#444" stroke-width="2.0" />
<line x1="1494.6" y1="529.0" x2="1503.0" y2="529.0" stroke="#444" stroke-width="2.0" />
<line x1="1494.6" y1="568.3" x2="1503.0" y2="568.3" stroke="#444" stroke-width="2.0" />
<path d="M1498.8 538.5L1507.4 548.7L1498.8 558.9L1490.2 548.7Z" fill="#929292" stroke="#484848" stroke-width="2.2"/>
<line x1="1522.4" y1="527.8" x2="1522.4" y2="567.0" stroke="#444" stroke-width="2.0" />
<line x1="1518.2" y1="527.8" x2="1526.6" y2="527.8" stroke="#444" stroke-width="2.0" />
<line x1="1518.2" y1="567.0" x2="1526.6" y2="567.0" stroke="#444" stroke-width="2.0" />
<path d="M1522.4 537.2L1531.0 547.4L1522.4 557.6L1513.8 547.4Z" fill="#929292" stroke="#484848" stroke-width="2.2"/>
<line x1="1546.0" y1="536.3" x2="1546.0" y2="575.5" stroke="#444" stroke-width="2.0" />
<line x1="1541.8" y1="536.3" x2="1550.2" y2="536.3" stroke="#444" stroke-width="2.0" />
<line x1="1541.8" y1="575.5" x2="1550.2" y2="575.5" stroke="#444" stroke-width="2.0" />
<path d="M1546.0 545.7L1554.6 555.9L1546.0 566.1L1537.4 555.9Z" fill="#929292" stroke="#484848" stroke-width="2.2"/>
<line x1="1569.6" y1="530.9" x2="1569.6" y2="561.0" stroke="#444" stroke-width="2.0" />
<line x1="1565.4" y1="530.9" x2="1573.8" y2="530.9" stroke="#444" stroke-width="2.0" />
<line x1="1565.4" y1="561.0" x2="1573.8" y2="561.0" stroke="#444" stroke-width="2.0" />
<path d="M1569.6 535.7L1578.2 545.9L1569.6 556.1L1561.0 545.9Z" fill="#929292" stroke="#484848" stroke-width="2.2"/>
<line x1="1593.2" y1="538.4" x2="1593.2" y2="565.5" stroke="#444" stroke-width="2.0" />
<line x1="1589.0" y1="538.4" x2="1597.4" y2="538.4" stroke="#444" stroke-width="2.0" />
<line x1="1589.0" y1="565.5" x2="1597.4" y2="565.5" stroke="#444" stroke-width="2.0" />
<path d="M1593.2 541.8L1601.8 552.0L1593.2 562.2L1584.6 552.0Z" fill="#929292" stroke="#484848" stroke-width="2.2"/>
<line x1="1616.8" y1="546.2" x2="1616.8" y2="588.5" stroke="#444" stroke-width="2.0" />
<line x1="1612.6" y1="546.2" x2="1621.0" y2="546.2" stroke="#444" stroke-width="2.0" />
<line x1="1612.6" y1="588.5" x2="1621.0" y2="588.5" stroke="#444" stroke-width="2.0" />
<path d="M1616.8 557.1L1625.4 567.3L1616.8 577.5L1608.2 567.3Z" fill="#929292" stroke="#484848" stroke-width="2.2"/>
<line x1="1640.4" y1="545.0" x2="1640.4" y2="587.3" stroke="#444" stroke-width="2.0" />
<line x1="1636.2" y1="545.0" x2="1644.6" y2="545.0" stroke="#444" stroke-width="2.0" />
<line x1="1636.2" y1="587.3" x2="1644.6" y2="587.3" stroke="#444" stroke-width="2.0" />
<path d="M1640.4 555.9L1649.0 566.1L1640.4 576.3L1631.8 566.1Z" fill="#929292" stroke="#484848" stroke-width="2.2"/>
<line x1="1664.1" y1="545.3" x2="1664.1" y2="569.5" stroke="#444" stroke-width="2.0" />
<line x1="1659.9" y1="545.3" x2="1668.3" y2="545.3" stroke="#444" stroke-width="2.0" />
<line x1="1659.9" y1="569.5" x2="1668.3" y2="569.5" stroke="#444" stroke-width="2.0" />
<path d="M1664.1 547.2L1672.7 557.4L1664.1 567.6L1655.5 557.4Z" fill="#929292" stroke="#484848" stroke-width="2.2"/>
<rect x="1279.1" y="565.3" width="14.4" height="14.4" fill="#f2f2f2" stroke="#3a3a3a" stroke-width="2.6" />
<rect x="1302.7" y="557.7" width="14.4" height="14.4" fill="#f2f2f2" stroke="#3a3a3a" stroke-width="2.6" />
<rect x="1326.3" y="560.8" width="14.4" height="14.4" fill="#f2f2f2" stroke="#3a3a3a" stroke-width="2.6" />
<line x1="1380.7" y1="503.4" x2="1380.7" y2="533.6" stroke="#555" stroke-width="2.0" />
<line x1="1376.5" y1="503.4" x2="1384.9" y2="503.4" stroke="#555" stroke-width="2.0" />
<line x1="1376.5" y1="533.6" x2="1384.9" y2="533.6" stroke="#555" stroke-width="2.0" />
<rect x="1373.5" y="511.3" width="14.4" height="14.4" fill="#f2f2f2" stroke="#3a3a3a" stroke-width="2.6" />
<line x1="1404.3" y1="483.5" x2="1404.3" y2="513.7" stroke="#555" stroke-width="2.0" />
<line x1="1400.1" y1="483.5" x2="1408.5" y2="483.5" stroke="#555" stroke-width="2.0" />
<line x1="1400.1" y1="513.7" x2="1408.5" y2="513.7" stroke="#555" stroke-width="2.0" />
<rect x="1397.1" y="491.4" width="14.4" height="14.4" fill="#f2f2f2" stroke="#3a3a3a" stroke-width="2.6" />
<line x1="1428.0" y1="480.5" x2="1428.0" y2="510.7" stroke="#555" stroke-width="2.0" />
<line x1="1423.8" y1="480.5" x2="1432.2" y2="480.5" stroke="#555" stroke-width="2.0" />
<line x1="1423.8" y1="510.7" x2="1432.2" y2="510.7" stroke="#555" stroke-width="2.0" />
<rect x="1420.8" y="488.4" width="14.4" height="14.4" fill="#f2f2f2" stroke="#3a3a3a" stroke-width="2.6" />
<line x1="1451.6" y1="489.5" x2="1451.6" y2="519.7" stroke="#555" stroke-width="2.0" />
<line x1="1447.4" y1="489.5" x2="1455.8" y2="489.5" stroke="#555" stroke-width="2.0" />
<line x1="1447.4" y1="519.7" x2="1455.8" y2="519.7" stroke="#555" stroke-width="2.0" />
<rect x="1444.4" y="497.4" width="14.4" height="14.4" fill="#f2f2f2" stroke="#3a3a3a" stroke-width="2.6" />
<line x1="1475.2" y1="491.0" x2="1475.2" y2="521.2" stroke="#555" stroke-width="2.0" />
<line x1="1471.0" y1="491.0" x2="1479.4" y2="491.0" stroke="#555" stroke-width="2.0" />
<line x1="1471.0" y1="521.2" x2="1479.4" y2="521.2" stroke="#555" stroke-width="2.0" />
<rect x="1468.0" y="498.9" width="14.4" height="14.4" fill="#f2f2f2" stroke="#3a3a3a" stroke-width="2.6" />
<line x1="1498.8" y1="498.6" x2="1498.8" y2="528.7" stroke="#555" stroke-width="2.0" />
<line x1="1494.6" y1="498.6" x2="1503.0" y2="498.6" stroke="#555" stroke-width="2.0" />
<line x1="1494.6" y1="528.7" x2="1503.0" y2="528.7" stroke="#555" stroke-width="2.0" />
<rect x="1491.6" y="506.5" width="14.4" height="14.4" fill="#f2f2f2" stroke="#3a3a3a" stroke-width="2.6" />
<line x1="1522.4" y1="497.4" x2="1522.4" y2="527.5" stroke="#555" stroke-width="2.0" />
<line x1="1518.2" y1="497.4" x2="1526.6" y2="497.4" stroke="#555" stroke-width="2.0" />
<line x1="1518.2" y1="527.5" x2="1526.6" y2="527.5" stroke="#555" stroke-width="2.0" />
<rect x="1515.2" y="505.3" width="14.4" height="14.4" fill="#f2f2f2" stroke="#3a3a3a" stroke-width="2.6" />
<line x1="1546.0" y1="498.6" x2="1546.0" y2="528.7" stroke="#555" stroke-width="2.0" />
<line x1="1541.8" y1="498.6" x2="1550.2" y2="498.6" stroke="#555" stroke-width="2.0" />
<line x1="1541.8" y1="528.7" x2="1550.2" y2="528.7" stroke="#555" stroke-width="2.0" />
<rect x="1538.8" y="506.5" width="14.4" height="14.4" fill="#f2f2f2" stroke="#3a3a3a" stroke-width="2.6" />
<line x1="1569.6" y1="500.4" x2="1569.6" y2="530.6" stroke="#555" stroke-width="2.0" />
<line x1="1565.4" y1="500.4" x2="1573.8" y2="500.4" stroke="#555" stroke-width="2.0" />
<line x1="1565.4" y1="530.6" x2="1573.8" y2="530.6" stroke="#555" stroke-width="2.0" />
<rect x="1562.4" y="508.3" width="14.4" height="14.4" fill="#f2f2f2" stroke="#3a3a3a" stroke-width="2.6" />
<line x1="1593.2" y1="498.6" x2="1593.2" y2="528.7" stroke="#555" stroke-width="2.0" />
<line x1="1589.0" y1="498.6" x2="1597.4" y2="498.6" stroke="#555" stroke-width="2.0" />
<line x1="1589.0" y1="528.7" x2="1597.4" y2="528.7" stroke="#555" stroke-width="2.0" />
<rect x="1586.0" y="506.5" width="14.4" height="14.4" fill="#f2f2f2" stroke="#3a3a3a" stroke-width="2.6" />
<line x1="1616.8" y1="489.5" x2="1616.8" y2="519.7" stroke="#555" stroke-width="2.0" />
<line x1="1612.6" y1="489.5" x2="1621.0" y2="489.5" stroke="#555" stroke-width="2.0" />
<line x1="1612.6" y1="519.7" x2="1621.0" y2="519.7" stroke="#555" stroke-width="2.0" />
<rect x="1609.6" y="497.4" width="14.4" height="14.4" fill="#f2f2f2" stroke="#3a3a3a" stroke-width="2.6" />
<line x1="1640.4" y1="501.6" x2="1640.4" y2="531.8" stroke="#555" stroke-width="2.0" />
<line x1="1636.2" y1="501.6" x2="1644.6" y2="501.6" stroke="#555" stroke-width="2.0" />
<line x1="1636.2" y1="531.8" x2="1644.6" y2="531.8" stroke="#555" stroke-width="2.0" />
<rect x="1633.2" y="509.5" width="14.4" height="14.4" fill="#f2f2f2" stroke="#3a3a3a" stroke-width="2.6" />
<line x1="1664.1" y1="492.6" x2="1664.1" y2="522.7" stroke="#555" stroke-width="2.0" />
<line x1="1659.9" y1="492.6" x2="1668.3" y2="492.6" stroke="#555" stroke-width="2.0" />
<line x1="1659.9" y1="522.7" x2="1668.3" y2="522.7" stroke="#555" stroke-width="2.0" />
<rect x="1656.9" y="500.4" width="14.4" height="14.4" fill="#f2f2f2" stroke="#3a3a3a" stroke-width="2.6" />
<ellipse cx="1286.3" cy="580.0" rx="7.2" ry="7.2" fill="#fff" stroke="#000" stroke-width="2.9"/>
<ellipse cx="1309.9" cy="575.5" rx="7.2" ry="7.2" fill="#fff" stroke="#000" stroke-width="2.9"/>
<ellipse cx="1333.5" cy="574.0" rx="7.2" ry="7.2" fill="#fff" stroke="#000" stroke-width="2.9"/>
<line x1="1380.7" y1="512.8" x2="1380.7" y2="542.9" stroke="#111" stroke-width="2.0" />
<line x1="1376.5" y1="512.8" x2="1384.9" y2="512.8" stroke="#111" stroke-width="2.0" />
<line x1="1376.5" y1="542.9" x2="1384.9" y2="542.9" stroke="#111" stroke-width="2.0" />
<ellipse cx="1380.7" cy="527.8" rx="7.2" ry="7.2" fill="#fff" stroke="#000" stroke-width="2.9"/>
<line x1="1404.3" y1="492.0" x2="1404.3" y2="522.1" stroke="#111" stroke-width="2.0" />
<line x1="1400.1" y1="492.0" x2="1408.5" y2="492.0" stroke="#111" stroke-width="2.0" />
<line x1="1400.1" y1="522.1" x2="1408.5" y2="522.1" stroke="#111" stroke-width="2.0" />
<ellipse cx="1404.3" cy="507.0" rx="7.2" ry="7.2" fill="#fff" stroke="#000" stroke-width="2.9"/>
<line x1="1428.0" y1="494.1" x2="1428.0" y2="518.2" stroke="#111" stroke-width="2.0" />
<line x1="1423.8" y1="494.1" x2="1432.2" y2="494.1" stroke="#111" stroke-width="2.0" />
<line x1="1423.8" y1="518.2" x2="1432.2" y2="518.2" stroke="#111" stroke-width="2.0" />
<ellipse cx="1428.0" cy="506.1" rx="7.2" ry="7.2" fill="#fff" stroke="#000" stroke-width="2.9"/>
<line x1="1451.6" y1="497.1" x2="1451.6" y2="521.2" stroke="#111" stroke-width="2.0" />
<line x1="1447.4" y1="497.1" x2="1455.8" y2="497.1" stroke="#111" stroke-width="2.0" />
<line x1="1447.4" y1="521.2" x2="1455.8" y2="521.2" stroke="#111" stroke-width="2.0" />
<ellipse cx="1451.6" cy="509.1" rx="7.2" ry="7.2" fill="#fff" stroke="#000" stroke-width="2.9"/>
<line x1="1475.2" y1="494.1" x2="1475.2" y2="518.2" stroke="#111" stroke-width="2.0" />
<line x1="1471.0" y1="494.1" x2="1479.4" y2="494.1" stroke="#111" stroke-width="2.0" />
<line x1="1471.0" y1="518.2" x2="1479.4" y2="518.2" stroke="#111" stroke-width="2.0" />
<ellipse cx="1475.2" cy="506.1" rx="7.2" ry="7.2" fill="#fff" stroke="#000" stroke-width="2.9"/>
<line x1="1498.8" y1="497.1" x2="1498.8" y2="521.2" stroke="#111" stroke-width="2.0" />
<line x1="1494.6" y1="497.1" x2="1503.0" y2="497.1" stroke="#111" stroke-width="2.0" />
<line x1="1494.6" y1="521.2" x2="1503.0" y2="521.2" stroke="#111" stroke-width="2.0" />
<ellipse cx="1498.8" cy="509.1" rx="7.2" ry="7.2" fill="#fff" stroke="#000" stroke-width="2.9"/>
<line x1="1522.4" y1="501.6" x2="1522.4" y2="525.7" stroke="#111" stroke-width="2.0" />
<line x1="1518.2" y1="501.6" x2="1526.6" y2="501.6" stroke="#111" stroke-width="2.0" />
<line x1="1518.2" y1="525.7" x2="1526.6" y2="525.7" stroke="#111" stroke-width="2.0" />
<ellipse cx="1522.4" cy="513.7" rx="7.2" ry="7.2" fill="#fff" stroke="#000" stroke-width="2.9"/>
<line x1="1546.0" y1="500.4" x2="1546.0" y2="524.5" stroke="#111" stroke-width="2.0" />
<line x1="1541.8" y1="500.4" x2="1550.2" y2="500.4" stroke="#111" stroke-width="2.0" />
<line x1="1541.8" y1="524.5" x2="1550.2" y2="524.5" stroke="#111" stroke-width="2.0" />
<ellipse cx="1546.0" cy="512.5" rx="7.2" ry="7.2" fill="#fff" stroke="#000" stroke-width="2.9"/>
<line x1="1569.6" y1="507.9" x2="1569.6" y2="532.1" stroke="#111" stroke-width="2.0" />
<line x1="1565.4" y1="507.9" x2="1573.8" y2="507.9" stroke="#111" stroke-width="2.0" />
<line x1="1565.4" y1="532.1" x2="1573.8" y2="532.1" stroke="#111" stroke-width="2.0" />
<ellipse cx="1569.6" cy="520.0" rx="7.2" ry="7.2" fill="#fff" stroke="#000" stroke-width="2.9"/>
<line x1="1593.2" y1="504.6" x2="1593.2" y2="528.7" stroke="#111" stroke-width="2.0" />
<line x1="1589.0" y1="504.6" x2="1597.4" y2="504.6" stroke="#111" stroke-width="2.0" />
<line x1="1589.0" y1="528.7" x2="1597.4" y2="528.7" stroke="#111" stroke-width="2.0" />
<ellipse cx="1593.2" cy="516.7" rx="7.2" ry="7.2" fill="#fff" stroke="#000" stroke-width="2.9"/>
<line x1="1616.8" y1="508.5" x2="1616.8" y2="532.7" stroke="#111" stroke-width="2.0" />
<line x1="1612.6" y1="508.5" x2="1621.0" y2="508.5" stroke="#111" stroke-width="2.0" />
<line x1="1612.6" y1="532.7" x2="1621.0" y2="532.7" stroke="#111" stroke-width="2.0" />
<ellipse cx="1616.8" cy="520.6" rx="7.2" ry="7.2" fill="#fff" stroke="#000" stroke-width="2.9"/>
<line x1="1640.4" y1="511.3" x2="1640.4" y2="535.4" stroke="#111" stroke-width="2.0" />
<line x1="1636.2" y1="511.3" x2="1644.6" y2="511.3" stroke="#111" stroke-width="2.0" />
<line x1="1636.2" y1="535.4" x2="1644.6" y2="535.4" stroke="#111" stroke-width="2.0" />
<ellipse cx="1640.4" cy="523.3" rx="7.2" ry="7.2" fill="#fff" stroke="#000" stroke-width="2.9"/>
<line x1="1664.1" y1="509.4" x2="1664.1" y2="533.6" stroke="#111" stroke-width="2.0" />
<line x1="1659.9" y1="509.4" x2="1668.3" y2="509.4" stroke="#111" stroke-width="2.0" />
<line x1="1659.9" y1="533.6" x2="1668.3" y2="533.6" stroke="#111" stroke-width="2.0" />
<ellipse cx="1664.1" cy="521.5" rx="7.2" ry="7.2" fill="#fff" stroke="#000" stroke-width="2.9"/>
<circle cx="1286.3" cy="571.0" r="9.1" fill="#000"/>
<circle cx="1309.9" cy="574.0" r="9.1" fill="#000"/>
<circle cx="1333.5" cy="569.5" r="9.1" fill="#000"/>
<line x1="1380.7" y1="461.8" x2="1380.7" y2="504.0" stroke="#111" stroke-width="2.0" />
<line x1="1376.5" y1="461.8" x2="1384.9" y2="461.8" stroke="#111" stroke-width="2.0" />
<line x1="1376.5" y1="504.0" x2="1384.9" y2="504.0" stroke="#111" stroke-width="2.0" />
<circle cx="1380.7" cy="482.9" r="9.1" fill="#000"/>
<line x1="1404.3" y1="453.3" x2="1404.3" y2="501.6" stroke="#111" stroke-width="2.0" />
<line x1="1400.1" y1="453.3" x2="1408.5" y2="453.3" stroke="#111" stroke-width="2.0" />
<line x1="1400.1" y1="501.6" x2="1408.5" y2="501.6" stroke="#111" stroke-width="2.0" />
<circle cx="1404.3" cy="477.5" r="9.1" fill="#000"/>
<line x1="1428.0" y1="458.8" x2="1428.0" y2="504.0" stroke="#111" stroke-width="2.0" />
<line x1="1423.8" y1="458.8" x2="1432.2" y2="458.8" stroke="#111" stroke-width="2.0" />
<line x1="1423.8" y1="504.0" x2="1432.2" y2="504.0" stroke="#111" stroke-width="2.0" />
<circle cx="1428.0" cy="481.4" r="9.1" fill="#000"/>
<line x1="1451.6" y1="475.7" x2="1451.6" y2="517.9" stroke="#111" stroke-width="2.0" />
<line x1="1447.4" y1="475.7" x2="1455.8" y2="475.7" stroke="#111" stroke-width="2.0" />
<line x1="1447.4" y1="517.9" x2="1455.8" y2="517.9" stroke="#111" stroke-width="2.0" />
<circle cx="1451.6" cy="496.8" r="9.1" fill="#000"/>
<line x1="1475.2" y1="471.1" x2="1475.2" y2="516.4" stroke="#111" stroke-width="2.0" />
<line x1="1471.0" y1="471.1" x2="1479.4" y2="471.1" stroke="#111" stroke-width="2.0" />
<line x1="1471.0" y1="516.4" x2="1479.4" y2="516.4" stroke="#111" stroke-width="2.0" />
<circle cx="1475.2" cy="493.8" r="9.1" fill="#000"/>
<line x1="1498.8" y1="474.2" x2="1498.8" y2="516.4" stroke="#111" stroke-width="2.0" />
<line x1="1494.6" y1="474.2" x2="1503.0" y2="474.2" stroke="#111" stroke-width="2.0" />
<line x1="1494.6" y1="516.4" x2="1503.0" y2="516.4" stroke="#111" stroke-width="2.0" />
<circle cx="1498.8" cy="495.3" r="9.1" fill="#000"/>
<line x1="1522.4" y1="486.5" x2="1522.4" y2="525.7" stroke="#111" stroke-width="2.0" />
<line x1="1518.2" y1="486.5" x2="1526.6" y2="486.5" stroke="#111" stroke-width="2.0" />
<line x1="1518.2" y1="525.7" x2="1526.6" y2="525.7" stroke="#111" stroke-width="2.0" />
<circle cx="1522.4" cy="506.1" r="9.1" fill="#000"/>
<line x1="1546.0" y1="485.0" x2="1546.0" y2="524.2" stroke="#111" stroke-width="2.0" />
<line x1="1541.8" y1="485.0" x2="1550.2" y2="485.0" stroke="#111" stroke-width="2.0" />
<line x1="1541.8" y1="524.2" x2="1550.2" y2="524.2" stroke="#111" stroke-width="2.0" />
<circle cx="1546.0" cy="504.6" r="9.1" fill="#000"/>
<line x1="1569.6" y1="489.5" x2="1569.6" y2="525.7" stroke="#111" stroke-width="2.0" />
<line x1="1565.4" y1="489.5" x2="1573.8" y2="489.5" stroke="#111" stroke-width="2.0" />
<line x1="1565.4" y1="525.7" x2="1573.8" y2="525.7" stroke="#111" stroke-width="2.0" />
<circle cx="1569.6" cy="507.6" r="9.1" fill="#000"/>
<line x1="1593.2" y1="489.5" x2="1593.2" y2="525.7" stroke="#111" stroke-width="2.0" />
<line x1="1589.0" y1="489.5" x2="1597.4" y2="489.5" stroke="#111" stroke-width="2.0" />
<line x1="1589.0" y1="525.7" x2="1597.4" y2="525.7" stroke="#111" stroke-width="2.0" />
<circle cx="1593.2" cy="507.6" r="9.1" fill="#000"/>
<line x1="1616.8" y1="492.6" x2="1616.8" y2="528.7" stroke="#111" stroke-width="2.0" />
<line x1="1612.6" y1="492.6" x2="1621.0" y2="492.6" stroke="#111" stroke-width="2.0" />
<line x1="1612.6" y1="528.7" x2="1621.0" y2="528.7" stroke="#111" stroke-width="2.0" />
<circle cx="1616.8" cy="510.7" r="9.1" fill="#000"/>
<line x1="1640.4" y1="491.0" x2="1640.4" y2="530.3" stroke="#111" stroke-width="2.0" />
<line x1="1636.2" y1="491.0" x2="1644.6" y2="491.0" stroke="#111" stroke-width="2.0" />
<line x1="1636.2" y1="530.3" x2="1644.6" y2="530.3" stroke="#111" stroke-width="2.0" />
<circle cx="1640.4" cy="510.7" r="9.1" fill="#000"/>
<line x1="1664.1" y1="495.0" x2="1664.1" y2="531.2" stroke="#111" stroke-width="2.0" />
<line x1="1659.9" y1="495.0" x2="1668.3" y2="495.0" stroke="#111" stroke-width="2.0" />
<line x1="1659.9" y1="531.2" x2="1668.3" y2="531.2" stroke="#111" stroke-width="2.0" />
<circle cx="1664.1" cy="513.1" r="9.1" fill="#000"/>
<line x1="1262.7" y1="270.6" x2="1262.7" y2="636.1" stroke="#000" stroke-width="4.0" />
<line x1="1254.1" y1="634.3" x2="1687.4" y2="634.3" stroke="#000" stroke-width="3.6" />
<line x1="1254.1" y1="634.3" x2="1262.7" y2="634.3" stroke="#000" stroke-width="3.6" />
<text x="1248.0" y="642.7" font-size="22.5" text-anchor="end" fill="#000" font-weight="bold" textLength="23.1" lengthAdjust="spacingAndGlyphs">80</text>
<line x1="1254.1" y1="574.0" x2="1262.7" y2="574.0" stroke="#000" stroke-width="3.6" />
<text x="1248.0" y="582.4" font-size="22.5" text-anchor="end" fill="#000" font-weight="bold" textLength="34.7" lengthAdjust="spacingAndGlyphs">100</text>
<line x1="1254.1" y1="513.7" x2="1262.7" y2="513.7" stroke="#000" stroke-width="3.6" />
<text x="1248.0" y="522.1" font-size="22.5" text-anchor="end" fill="#000" font-weight="bold" textLength="34.7" lengthAdjust="spacingAndGlyphs">120</text>
<line x1="1254.1" y1="453.3" x2="1262.7" y2="453.3" stroke="#000" stroke-width="3.6" />
<text x="1248.0" y="461.7" font-size="22.5" text-anchor="end" fill="#000" font-weight="bold" textLength="34.7" lengthAdjust="spacingAndGlyphs">140</text>
<line x1="1254.1" y1="393.0" x2="1262.7" y2="393.0" stroke="#000" stroke-width="3.6" />
<text x="1248.0" y="401.4" font-size="22.5" text-anchor="end" fill="#000" font-weight="bold" textLength="34.7" lengthAdjust="spacingAndGlyphs">160</text>
<line x1="1254.1" y1="332.7" x2="1262.7" y2="332.7" stroke="#000" stroke-width="3.6" />
<text x="1248.0" y="341.1" font-size="22.5" text-anchor="end" fill="#000" font-weight="bold" textLength="34.7" lengthAdjust="spacingAndGlyphs">180</text>
<line x1="1254.1" y1="272.4" x2="1262.7" y2="272.4" stroke="#000" stroke-width="3.6" />
<text x="1248.0" y="280.8" font-size="22.5" text-anchor="end" fill="#000" font-weight="bold" textLength="34.7" lengthAdjust="spacingAndGlyphs">200</text>
<line x1="1258.1" y1="604.1" x2="1262.7" y2="604.1" stroke="#000" stroke-width="2.8" />
<line x1="1258.1" y1="543.8" x2="1262.7" y2="543.8" stroke="#000" stroke-width="2.8" />
<line x1="1258.1" y1="483.5" x2="1262.7" y2="483.5" stroke="#000" stroke-width="2.8" />
<line x1="1258.1" y1="423.2" x2="1262.7" y2="423.2" stroke="#000" stroke-width="2.8" />
<line x1="1258.1" y1="362.9" x2="1262.7" y2="362.9" stroke="#000" stroke-width="2.8" />
<line x1="1258.1" y1="302.6" x2="1262.7" y2="302.6" stroke="#000" stroke-width="2.8" />
<line x1="1286.3" y1="634.3" x2="1286.3" y2="643.3" stroke="#000" stroke-width="3.6" />
<line x1="1309.9" y1="634.3" x2="1309.9" y2="643.3" stroke="#000" stroke-width="3.6" />
<line x1="1333.5" y1="634.3" x2="1333.5" y2="643.3" stroke="#000" stroke-width="3.6" />
<line x1="1357.1" y1="634.3" x2="1357.1" y2="643.3" stroke="#000" stroke-width="3.6" />
<line x1="1380.7" y1="634.3" x2="1380.7" y2="643.3" stroke="#000" stroke-width="3.6" />
<line x1="1404.3" y1="634.3" x2="1404.3" y2="643.3" stroke="#000" stroke-width="3.6" />
<line x1="1428.0" y1="634.3" x2="1428.0" y2="643.3" stroke="#000" stroke-width="3.6" />
<line x1="1451.6" y1="634.3" x2="1451.6" y2="643.3" stroke="#000" stroke-width="3.6" />
<line x1="1475.2" y1="634.3" x2="1475.2" y2="643.3" stroke="#000" stroke-width="3.6" />
<line x1="1498.8" y1="634.3" x2="1498.8" y2="643.3" stroke="#000" stroke-width="3.6" />
<line x1="1522.4" y1="634.3" x2="1522.4" y2="643.3" stroke="#000" stroke-width="3.6" />
<line x1="1546.0" y1="634.3" x2="1546.0" y2="643.3" stroke="#000" stroke-width="3.6" />
<line x1="1569.6" y1="634.3" x2="1569.6" y2="643.3" stroke="#000" stroke-width="3.6" />
<line x1="1593.2" y1="634.3" x2="1593.2" y2="643.3" stroke="#000" stroke-width="3.6" />
<line x1="1616.8" y1="634.3" x2="1616.8" y2="643.3" stroke="#000" stroke-width="3.6" />
<line x1="1640.4" y1="634.3" x2="1640.4" y2="643.3" stroke="#000" stroke-width="3.6" />
<line x1="1664.1" y1="634.3" x2="1664.1" y2="643.3" stroke="#000" stroke-width="3.6" />
<text x="1285.8" y="667.3" font-size="23.5" text-anchor="middle" fill="#000" font-weight="bold" textLength="19.6" lengthAdjust="spacingAndGlyphs">-9</text>
<text x="1333.0" y="667.3" font-size="23.5" text-anchor="middle" fill="#000" font-weight="bold" textLength="19.6" lengthAdjust="spacingAndGlyphs">-3</text>
<text x="1380.7" y="667.3" font-size="23.5" text-anchor="middle" fill="#000" font-weight="bold">3</text>
<text x="1428.0" y="667.3" font-size="23.5" text-anchor="middle" fill="#000" font-weight="bold">9</text>
<text x="1475.2" y="667.3" font-size="23.5" text-anchor="middle" fill="#000" font-weight="bold">15</text>
<text x="1522.4" y="667.3" font-size="23.5" text-anchor="middle" fill="#000" font-weight="bold">21</text>
<text x="1569.6" y="667.3" font-size="23.5" text-anchor="middle" fill="#000" font-weight="bold">27</text>
<text x="1616.8" y="667.3" font-size="23.5" text-anchor="middle" fill="#000" font-weight="bold">33</text>
<text x="1664.1" y="667.3" font-size="23.5" text-anchor="middle" fill="#000" font-weight="bold">39</text>
<text x="1475.2" y="704.8" font-size="24" text-anchor="middle" fill="#000" font-weight="bold" textLength="124.0" lengthAdjust="spacingAndGlyphs">Time (min)</text>
<text x="1339.7" y="298.0" font-size="26" text-anchor="middle" fill="#000" font-weight="bold" textLength="52.6" lengthAdjust="spacingAndGlyphs">HFS</text>
<path d="M1337.0 316.0 L1356.0 316.0 L1346.5 338.5 Z" fill="#000" stroke="#000" stroke-width="1" />
<line x1="1346.5" y1="312.5" x2="1346.5" y2="318.0" stroke="#000" stroke-width="5" />
<text x="1332.9" y="611.7" font-size="25" text-anchor="middle" fill="#a2a2a2" font-weight="bold">1</text>
<text x="1663.2" y="607.5" font-size="25" text-anchor="middle" fill="#000" font-weight="bold">2</text>
<line x1="1855.1" y1="428.8" x2="1855.1" y2="445.8" stroke="#000" stroke-width="3.2" />
<line x1="1848.7" y1="428.8" x2="1861.5" y2="428.8" stroke="#000" stroke-width="3.6" stroke-linecap="round"/>
<rect x="1843.1" y="447.5" width="24.0" height="183.9" fill="#fff" stroke="#000" stroke-width="3.4" />
<line x1="1891.1" y1="444.5" x2="1891.1" y2="464.8" stroke="#000" stroke-width="3.2" />
<line x1="1884.7" y1="444.5" x2="1897.5" y2="444.5" stroke="#000" stroke-width="3.6" stroke-linecap="round"/>
<rect x="1879.1" y="466.5" width="24.0" height="164.9" fill="#fff" stroke="#000" stroke-width="3.4" />
<line x1="1927.1" y1="369.3" x2="1927.1" y2="389.6" stroke="#000" stroke-width="3.2" />
<line x1="1920.7" y1="369.3" x2="1933.5" y2="369.3" stroke="#000" stroke-width="3.6" stroke-linecap="round"/>
<rect x="1915.1" y="391.3" width="24.0" height="240.1" fill="#000" stroke="#000" stroke-width="3.4" />
<line x1="1962.5" y1="436.3" x2="1962.5" y2="463.6" stroke="#000" stroke-width="3.2" />
<line x1="1956.1" y1="436.3" x2="1968.9" y2="436.3" stroke="#000" stroke-width="3.6" stroke-linecap="round"/>
<rect x="1950.5" y="465.3" width="24.0" height="166.1" fill="#000" stroke="#000" stroke-width="3.4" />
<line x1="1998.5" y1="306.5" x2="1998.5" y2="334.2" stroke="#000" stroke-width="3.2" />
<line x1="1992.1" y1="306.5" x2="2004.9" y2="306.5" stroke="#000" stroke-width="3.6" stroke-linecap="round"/>
<rect x="1986.5" y="335.9" width="24.0" height="295.5" fill="#8a8a8a" stroke="#000" stroke-width="3.4" />
<line x1="2034.5" y1="509.9" x2="2034.5" y2="527.2" stroke="#000" stroke-width="3.2" />
<line x1="2028.1" y1="509.9" x2="2040.9" y2="509.9" stroke="#000" stroke-width="3.6" stroke-linecap="round"/>
<rect x="2022.5" y="528.9" width="24.0" height="102.5" fill="#8a8a8a" stroke="#000" stroke-width="3.4" />
<line x1="2070.5" y1="416.0" x2="2070.5" y2="433.4" stroke="#000" stroke-width="3.2" />
<line x1="2064.1" y1="416.0" x2="2076.9" y2="416.0" stroke="#000" stroke-width="3.6" stroke-linecap="round"/>
<rect x="2058.5" y="435.1" width="24.0" height="196.3" fill="#dcdcdc" stroke="#000" stroke-width="3.4" />
<line x1="2106.5" y1="467.3" x2="2106.5" y2="480.1" stroke="#000" stroke-width="3.2" />
<line x1="2100.1" y1="467.3" x2="2112.9" y2="467.3" stroke="#000" stroke-width="3.6" stroke-linecap="round"/>
<rect x="2094.5" y="481.8" width="24.0" height="149.6" fill="#dcdcdc" stroke="#000" stroke-width="3.4" />
<line x1="1840.3" y1="449.5" x2="1840.3" y2="631.4" stroke="#ddd" stroke-width="1.2" />
<line x1="1838.2" y1="548.7" x2="2129.0" y2="548.7" stroke="#000" stroke-width="3.0" stroke-dasharray="9 4 3 4"/>
<line x1="1838.2" y1="216.2" x2="1838.2" y2="633.2" stroke="#000" stroke-width="3.6" />
<line x1="1826.2" y1="631.4" x2="2124.0" y2="631.4" stroke="#000" stroke-width="3.8" />
<line x1="1826.2" y1="631.4" x2="1838.2" y2="631.4" stroke="#000" stroke-width="3.6" stroke-linecap="round"/>
<text x="1821.2" y="642.4" font-size="24.5" text-anchor="end" fill="#000" font-weight="bold" textLength="27.0" lengthAdjust="spacingAndGlyphs">80</text>
<line x1="1826.2" y1="548.7" x2="1838.2" y2="548.7" stroke="#000" stroke-width="3.6" stroke-linecap="round"/>
<text x="1821.2" y="559.7" font-size="24.5" text-anchor="end" fill="#000" font-weight="bold" textLength="40.3" lengthAdjust="spacingAndGlyphs">100</text>
<line x1="1826.2" y1="466.0" x2="1838.2" y2="466.0" stroke="#000" stroke-width="3.6" stroke-linecap="round"/>
<text x="1821.2" y="477.0" font-size="24.5" text-anchor="end" fill="#000" font-weight="bold" textLength="40.3" lengthAdjust="spacingAndGlyphs">120</text>
<line x1="1826.2" y1="383.4" x2="1838.2" y2="383.4" stroke="#000" stroke-width="3.6" stroke-linecap="round"/>
<text x="1821.2" y="394.4" font-size="24.5" text-anchor="end" fill="#000" font-weight="bold" textLength="40.3" lengthAdjust="spacingAndGlyphs">140</text>
<line x1="1826.2" y1="300.7" x2="1838.2" y2="300.7" stroke="#000" stroke-width="3.6" stroke-linecap="round"/>
<text x="1821.2" y="311.7" font-size="24.5" text-anchor="end" fill="#000" font-weight="bold" textLength="40.3" lengthAdjust="spacingAndGlyphs">160</text>
<line x1="1826.2" y1="218.0" x2="1838.2" y2="218.0" stroke="#000" stroke-width="3.6" stroke-linecap="round"/>
<text x="1821.2" y="229.0" font-size="24.5" text-anchor="end" fill="#000" font-weight="bold" textLength="40.3" lengthAdjust="spacingAndGlyphs">180</text>
<line x1="1858.5" y1="286.9" x2="1992.0" y2="286.9" stroke="#000" stroke-width="4.4" stroke-linecap="round"/>
<line x1="2000.0" y1="286.9" x2="2036.5" y2="286.9" stroke="#000" stroke-width="4.4" stroke-linecap="round"/>
<text x="1926.3" y="279.8" font-size="15.5" text-anchor="middle" fill="#000" font-weight="bold" textLength="40.0" lengthAdjust="spacingAndGlyphs">★★★</text>
<text x="2017.5" y="279.8" font-size="15.5" text-anchor="middle" fill="#000" font-weight="bold" textLength="39.0" lengthAdjust="spacingAndGlyphs">★★★</text>
<line x1="1859.5" y1="354.4" x2="1923.0" y2="354.4" stroke="#000" stroke-width="4.4" stroke-linecap="round"/>
<line x1="1930.5" y1="354.4" x2="1968.5" y2="354.4" stroke="#000" stroke-width="4.4" stroke-linecap="round"/>
<text x="1890.3" y="348.0" font-size="15.5" text-anchor="middle" fill="#000" font-weight="bold">★</text>
<text x="1949.5" y="348.0" font-size="15.5" text-anchor="middle" fill="#000" font-weight="bold">★</text>
<text x="1832.6" y="659.5" font-size="20" text-anchor="start" fill="#000" font-weight="bold" textLength="284.0" lengthAdjust="spacingAndGlyphs">WT KO WT KO WT KO WT KO</text>
<text x="1864.3" y="688.3" font-size="19" text-anchor="middle" fill="#1c1c1c" font-weight="bold" textLength="58.4" lengthAdjust="spacingAndGlyphs">Water</text>
<text x="1941.3" y="688.3" font-size="19" text-anchor="middle" fill="#1c1c1c" font-weight="bold" textLength="42.0" lengthAdjust="spacingAndGlyphs">3 OT</text>
<text x="2017.0" y="688.3" font-size="19" text-anchor="middle" fill="#1c1c1c" font-weight="bold" textLength="50.5" lengthAdjust="spacingAndGlyphs">Taste</text>
<text x="2086.5" y="688.3" font-size="19" text-anchor="middle" fill="#1c1c1c" font-weight="bold" textLength="47.0" lengthAdjust="spacingAndGlyphs">Odor</text>
<text x="1945.8" y="712.2" font-size="19" text-anchor="middle" fill="#2a2a2a" font-weight="bold" textLength="74.5" lengthAdjust="spacingAndGlyphs">pairings</text>
<text x="1765.2" y="426.7" font-size="22" text-anchor="middle" fill="#111" font-weight="bold" textLength="272.0" lengthAdjust="spacingAndGlyphs" transform="rotate(-90 1765.2 426.7)" stroke="#111" stroke-width="0.4">fEPSP Slope (% Baseline)</text>
<line x1="222.0" y1="1068.0" x2="945.0" y2="1068.0" stroke="#000" stroke-width="3.0" stroke-dasharray="3.4 3.3"/>
<line x1="221.4" y1="1078.1" x2="221.4" y2="1095.2" stroke="#2a2a2a" stroke-width="3.1" />
<rect x="216.8" y="1082.0" width="9.2" height="9.2" fill="#fff" stroke="#777" stroke-width="2.2" />
<line x1="242.4" y1="1068.4" x2="242.4" y2="1083.6" stroke="#2a2a2a" stroke-width="3.1" />
<rect x="237.8" y="1071.4" width="9.2" height="9.2" fill="#fff" stroke="#777" stroke-width="2.2" />
<line x1="263.3" y1="1054.9" x2="263.3" y2="1075.8" stroke="#2a2a2a" stroke-width="3.1" />
<rect x="258.7" y="1060.7" width="9.2" height="9.2" fill="#fff" stroke="#777" stroke-width="2.2" />
<line x1="284.3" y1="1060.9" x2="284.3" y2="1075.1" stroke="#2a2a2a" stroke-width="3.1" />
<rect x="279.7" y="1063.4" width="9.2" height="9.2" fill="#fff" stroke="#777" stroke-width="2.2" />
<line x1="305.3" y1="1060.9" x2="305.3" y2="1080.5" stroke="#2a2a2a" stroke-width="3.1" />
<rect x="300.7" y="1066.1" width="9.2" height="9.2" fill="#fff" stroke="#777" stroke-width="2.2" />
<line x1="326.3" y1="1064.5" x2="326.3" y2="1082.1" stroke="#2a2a2a" stroke-width="3.1" />
<rect x="321.7" y="1068.7" width="9.2" height="9.2" fill="#fff" stroke="#777" stroke-width="2.2" />
<line x1="347.3" y1="1068.9" x2="347.3" y2="1083.0" stroke="#2a2a2a" stroke-width="3.1" />
<rect x="342.7" y="1071.4" width="9.2" height="9.2" fill="#fff" stroke="#777" stroke-width="2.2" />
<line x1="368.2" y1="1061.0" x2="368.2" y2="1080.3" stroke="#2a2a2a" stroke-width="3.1" />
<rect x="363.6" y="1066.1" width="9.2" height="9.2" fill="#fff" stroke="#777" stroke-width="2.2" />
<line x1="389.2" y1="1058.4" x2="389.2" y2="1072.3" stroke="#2a2a2a" stroke-width="3.1" />
<rect x="384.6" y="1060.7" width="9.2" height="9.2" fill="#fff" stroke="#777" stroke-width="2.2" />
<line x1="410.2" y1="1061.5" x2="410.2" y2="1079.9" stroke="#2a2a2a" stroke-width="3.1" />
<rect x="405.6" y="1066.1" width="9.2" height="9.2" fill="#fff" stroke="#777" stroke-width="2.2" />
<line x1="452.2" y1="1125.9" x2="452.2" y2="1148.6" stroke="#2a2a2a" stroke-width="3.1" />
<rect x="447.6" y="1132.7" width="9.2" height="9.2" fill="#fff" stroke="#777" stroke-width="2.2" />
<line x1="473.1" y1="1123.8" x2="473.1" y2="1147.0" stroke="#2a2a2a" stroke-width="3.1" />
<rect x="468.5" y="1130.8" width="9.2" height="9.2" fill="#fff" stroke="#777" stroke-width="2.2" />
<line x1="494.1" y1="1088.0" x2="494.1" y2="1120.5" stroke="#2a2a2a" stroke-width="3.1" />
<rect x="489.5" y="1099.6" width="9.2" height="9.2" fill="#fff" stroke="#777" stroke-width="2.2" />
<line x1="515.1" y1="1092.2" x2="515.1" y2="1135.9" stroke="#2a2a2a" stroke-width="3.1" />
<rect x="510.5" y="1109.5" width="9.2" height="9.2" fill="#fff" stroke="#777" stroke-width="2.2" />
<line x1="536.1" y1="1105.7" x2="536.1" y2="1129.9" stroke="#2a2a2a" stroke-width="3.1" />
<rect x="531.5" y="1113.2" width="9.2" height="9.2" fill="#fff" stroke="#777" stroke-width="2.2" />
<line x1="557.1" y1="1106.5" x2="557.1" y2="1133.4" stroke="#2a2a2a" stroke-width="3.1" />
<rect x="552.5" y="1115.3" width="9.2" height="9.2" fill="#fff" stroke="#777" stroke-width="2.2" />
<line x1="578.0" y1="1085.1" x2="578.0" y2="1123.3" stroke="#2a2a2a" stroke-width="3.1" />
<rect x="573.4" y="1099.6" width="9.2" height="9.2" fill="#fff" stroke="#777" stroke-width="2.2" />
<line x1="599.0" y1="1111.9" x2="599.0" y2="1158.9" stroke="#2a2a2a" stroke-width="3.1" />
<rect x="594.4" y="1130.8" width="9.2" height="9.2" fill="#fff" stroke="#777" stroke-width="2.2" />
<line x1="620.0" y1="1110.1" x2="620.0" y2="1146.9" stroke="#2a2a2a" stroke-width="3.1" />
<rect x="615.4" y="1123.9" width="9.2" height="9.2" fill="#fff" stroke="#777" stroke-width="2.2" />
<line x1="641.0" y1="1120.3" x2="641.0" y2="1152.1" stroke="#2a2a2a" stroke-width="3.1" />
<rect x="636.4" y="1131.6" width="9.2" height="9.2" fill="#fff" stroke="#777" stroke-width="2.2" />
<line x1="662.0" y1="1111.5" x2="662.0" y2="1159.3" stroke="#2a2a2a" stroke-width="3.1" />
<rect x="657.4" y="1130.8" width="9.2" height="9.2" fill="#fff" stroke="#777" stroke-width="2.2" />
<line x1="682.9" y1="1106.8" x2="682.9" y2="1128.9" stroke="#2a2a2a" stroke-width="3.1" />
<rect x="678.3" y="1113.2" width="9.2" height="9.2" fill="#fff" stroke="#777" stroke-width="2.2" />
<line x1="703.9" y1="1081.9" x2="703.9" y2="1126.5" stroke="#2a2a2a" stroke-width="3.1" />
<rect x="699.3" y="1099.6" width="9.2" height="9.2" fill="#fff" stroke="#777" stroke-width="2.2" />
<line x1="724.9" y1="1103.4" x2="724.9" y2="1132.2" stroke="#2a2a2a" stroke-width="3.1" />
<rect x="720.3" y="1113.2" width="9.2" height="9.2" fill="#fff" stroke="#777" stroke-width="2.2" />
<line x1="745.9" y1="1111.6" x2="745.9" y2="1136.3" stroke="#2a2a2a" stroke-width="3.1" />
<rect x="741.3" y="1119.3" width="9.2" height="9.2" fill="#fff" stroke="#777" stroke-width="2.2" />
<line x1="766.9" y1="1115.7" x2="766.9" y2="1139.7" stroke="#2a2a2a" stroke-width="3.1" />
<rect x="762.3" y="1123.1" width="9.2" height="9.2" fill="#fff" stroke="#777" stroke-width="2.2" />
<line x1="787.8" y1="1111.1" x2="787.8" y2="1140.5" stroke="#2a2a2a" stroke-width="3.1" />
<rect x="783.2" y="1121.2" width="9.2" height="9.2" fill="#fff" stroke="#777" stroke-width="2.2" />
<line x1="808.8" y1="1104.1" x2="808.8" y2="1147.5" stroke="#2a2a2a" stroke-width="3.1" />
<rect x="804.2" y="1121.2" width="9.2" height="9.2" fill="#fff" stroke="#777" stroke-width="2.2" />
<line x1="829.8" y1="1135.0" x2="829.8" y2="1160.8" stroke="#2a2a2a" stroke-width="3.1" />
<rect x="825.2" y="1143.3" width="9.2" height="9.2" fill="#fff" stroke="#777" stroke-width="2.2" />
<line x1="850.8" y1="1107.4" x2="850.8" y2="1144.3" stroke="#2a2a2a" stroke-width="3.1" />
<rect x="846.2" y="1121.2" width="9.2" height="9.2" fill="#fff" stroke="#777" stroke-width="2.2" />
<line x1="871.8" y1="1122.0" x2="871.8" y2="1160.5" stroke="#2a2a2a" stroke-width="3.1" />
<rect x="867.2" y="1136.7" width="9.2" height="9.2" fill="#fff" stroke="#777" stroke-width="2.2" />
<line x1="892.7" y1="1125.7" x2="892.7" y2="1156.8" stroke="#2a2a2a" stroke-width="3.1" />
<rect x="888.1" y="1136.7" width="9.2" height="9.2" fill="#fff" stroke="#777" stroke-width="2.2" />
<line x1="913.7" y1="1123.3" x2="913.7" y2="1159.2" stroke="#2a2a2a" stroke-width="3.1" />
<rect x="909.1" y="1136.7" width="9.2" height="9.2" fill="#fff" stroke="#777" stroke-width="2.2" />
<line x1="934.7" y1="1134.0" x2="934.7" y2="1156.5" stroke="#2a2a2a" stroke-width="3.1" />
<rect x="930.1" y="1140.7" width="9.2" height="9.2" fill="#fff" stroke="#777" stroke-width="2.2" />
<line x1="221.4" y1="1083.7" x2="221.4" y2="1100.2" stroke="#1a1a1a" stroke-width="3.1" />
<path d="M221.4 1085.8L227.4 1092.0L221.4 1098.2L215.4 1092.0Z" fill="#858585" stroke="#4a4a4a" stroke-width="1.8"/>
<line x1="242.4" y1="1051.9" x2="242.4" y2="1070.3" stroke="#1a1a1a" stroke-width="3.1" />
<path d="M242.4 1054.9L248.4 1061.1L242.4 1067.3L236.4 1061.1Z" fill="#858585" stroke="#4a4a4a" stroke-width="1.8"/>
<line x1="263.3" y1="1042.8" x2="263.3" y2="1067.6" stroke="#1a1a1a" stroke-width="3.1" />
<path d="M263.3 1049.0L269.3 1055.2L263.3 1061.4L257.3 1055.2Z" fill="#858585" stroke="#4a4a4a" stroke-width="1.8"/>
<line x1="284.3" y1="1062.6" x2="284.3" y2="1084.0" stroke="#1a1a1a" stroke-width="3.1" />
<path d="M284.3 1067.1L290.3 1073.3L284.3 1079.5L278.3 1073.3Z" fill="#858585" stroke="#4a4a4a" stroke-width="1.8"/>
<line x1="305.3" y1="1074.0" x2="305.3" y2="1093.9" stroke="#1a1a1a" stroke-width="3.1" />
<path d="M305.3 1077.8L311.3 1084.0L305.3 1090.2L299.3 1084.0Z" fill="#858585" stroke="#4a4a4a" stroke-width="1.8"/>
<line x1="326.3" y1="1057.3" x2="326.3" y2="1080.8" stroke="#1a1a1a" stroke-width="3.1" />
<path d="M326.3 1062.9L332.3 1069.1L326.3 1075.3L320.3 1069.1Z" fill="#858585" stroke="#4a4a4a" stroke-width="1.8"/>
<line x1="347.3" y1="1065.1" x2="347.3" y2="1086.9" stroke="#1a1a1a" stroke-width="3.1" />
<path d="M347.3 1069.8L353.3 1076.0L347.3 1082.2L341.3 1076.0Z" fill="#858585" stroke="#4a4a4a" stroke-width="1.8"/>
<line x1="368.2" y1="1040.3" x2="368.2" y2="1060.0" stroke="#1a1a1a" stroke-width="3.1" />
<path d="M368.2 1044.0L374.2 1050.2L368.2 1056.4L362.2 1050.2Z" fill="#858585" stroke="#4a4a4a" stroke-width="1.8"/>
<line x1="389.2" y1="1028.2" x2="389.2" y2="1054.5" stroke="#1a1a1a" stroke-width="3.1" />
<path d="M389.2 1035.2L395.2 1041.4L389.2 1047.6L383.2 1041.4Z" fill="#858585" stroke="#4a4a4a" stroke-width="1.8"/>
<line x1="410.2" y1="1064.3" x2="410.2" y2="1089.3" stroke="#1a1a1a" stroke-width="3.1" />
<path d="M410.2 1070.6L416.2 1076.8L410.2 1083.0L404.2 1076.8Z" fill="#858585" stroke="#4a4a4a" stroke-width="1.8"/>
<line x1="452.2" y1="1158.6" x2="452.2" y2="1185.2" stroke="#1a1a1a" stroke-width="3.1" />
<path d="M452.2 1165.7L458.2 1171.9L452.2 1178.1L446.2 1171.9Z" fill="#858585" stroke="#4a4a4a" stroke-width="1.8"/>
<line x1="473.1" y1="1118.8" x2="473.1" y2="1161.1" stroke="#1a1a1a" stroke-width="3.1" />
<path d="M473.1 1133.7L479.1 1139.9L473.1 1146.1L467.1 1139.9Z" fill="#858585" stroke="#4a4a4a" stroke-width="1.8"/>
<line x1="494.1" y1="1099.6" x2="494.1" y2="1140.3" stroke="#1a1a1a" stroke-width="3.1" />
<path d="M494.1 1113.7L500.1 1119.9L494.1 1126.1L488.1 1119.9Z" fill="#858585" stroke="#4a4a4a" stroke-width="1.8"/>
<line x1="515.1" y1="1101.7" x2="515.1" y2="1153.6" stroke="#1a1a1a" stroke-width="3.1" />
<path d="M515.1 1121.5L521.1 1127.7L515.1 1133.9L509.1 1127.7Z" fill="#858585" stroke="#4a4a4a" stroke-width="1.8"/>
<line x1="536.1" y1="1090.4" x2="536.1" y2="1137.7" stroke="#1a1a1a" stroke-width="3.1" />
<path d="M536.1 1107.9L542.1 1114.1L536.1 1120.3L530.1 1114.1Z" fill="#858585" stroke="#4a4a4a" stroke-width="1.8"/>
<line x1="557.1" y1="1109.2" x2="557.1" y2="1142.4" stroke="#1a1a1a" stroke-width="3.1" />
<path d="M557.1 1119.6L563.1 1125.8L557.1 1132.0L551.1 1125.8Z" fill="#858585" stroke="#4a4a4a" stroke-width="1.8"/>
<line x1="578.0" y1="1068.6" x2="578.0" y2="1123.9" stroke="#1a1a1a" stroke-width="3.1" />
<path d="M578.0 1090.0L584.0 1096.2L578.0 1102.4L572.0 1096.2Z" fill="#858585" stroke="#4a4a4a" stroke-width="1.8"/>
<line x1="599.0" y1="1090.4" x2="599.0" y2="1118.1" stroke="#1a1a1a" stroke-width="3.1" />
<path d="M599.0 1098.0L605.0 1104.2L599.0 1110.4L593.0 1104.2Z" fill="#858585" stroke="#4a4a4a" stroke-width="1.8"/>
<line x1="620.0" y1="1069.0" x2="620.0" y2="1106.4" stroke="#1a1a1a" stroke-width="3.1" />
<path d="M620.0 1081.5L626.0 1087.7L620.0 1093.9L614.0 1087.7Z" fill="#858585" stroke="#4a4a4a" stroke-width="1.8"/>
<line x1="641.0" y1="1083.9" x2="641.0" y2="1132.1" stroke="#1a1a1a" stroke-width="3.1" />
<path d="M641.0 1101.8L647.0 1108.0L641.0 1114.2L635.0 1108.0Z" fill="#858585" stroke="#4a4a4a" stroke-width="1.8"/>
<line x1="662.0" y1="1082.9" x2="662.0" y2="1111.7" stroke="#1a1a1a" stroke-width="3.1" />
<path d="M662.0 1091.1L668.0 1097.3L662.0 1103.5L656.0 1097.3Z" fill="#858585" stroke="#4a4a4a" stroke-width="1.8"/>
<line x1="682.9" y1="1061.5" x2="682.9" y2="1101.1" stroke="#1a1a1a" stroke-width="3.1" />
<path d="M682.9 1075.1L688.9 1081.3L682.9 1087.5L676.9 1081.3Z" fill="#858585" stroke="#4a4a4a" stroke-width="1.8"/>
<line x1="703.9" y1="1052.7" x2="703.9" y2="1078.0" stroke="#1a1a1a" stroke-width="3.1" />
<path d="M703.9 1059.1L709.9 1065.3L703.9 1071.5L697.9 1065.3Z" fill="#858585" stroke="#4a4a4a" stroke-width="1.8"/>
<line x1="724.9" y1="1091.4" x2="724.9" y2="1136.8" stroke="#1a1a1a" stroke-width="3.1" />
<path d="M724.9 1107.9L730.9 1114.1L724.9 1120.3L718.9 1114.1Z" fill="#858585" stroke="#4a4a4a" stroke-width="1.8"/>
<line x1="745.9" y1="1083.8" x2="745.9" y2="1132.2" stroke="#1a1a1a" stroke-width="3.1" />
<path d="M745.9 1101.8L751.9 1108.0L745.9 1114.2L739.9 1108.0Z" fill="#858585" stroke="#4a4a4a" stroke-width="1.8"/>
<line x1="766.9" y1="1059.6" x2="766.9" y2="1101.9" stroke="#1a1a1a" stroke-width="3.1" />
<path d="M766.9 1074.6L772.9 1080.8L766.9 1087.0L760.9 1080.8Z" fill="#858585" stroke="#4a4a4a" stroke-width="1.8"/>
<line x1="787.8" y1="1095.3" x2="787.8" y2="1147.3" stroke="#1a1a1a" stroke-width="3.1" />
<path d="M787.8 1115.1L793.8 1121.3L787.8 1127.5L781.8 1121.3Z" fill="#858585" stroke="#4a4a4a" stroke-width="1.8"/>
<line x1="808.8" y1="1052.1" x2="808.8" y2="1086.1" stroke="#1a1a1a" stroke-width="3.1" />
<path d="M808.8 1062.9L814.8 1069.1L808.8 1075.3L802.8 1069.1Z" fill="#858585" stroke="#4a4a4a" stroke-width="1.8"/>
<line x1="829.8" y1="1058.2" x2="829.8" y2="1104.4" stroke="#1a1a1a" stroke-width="3.1" />
<path d="M829.8 1075.1L835.8 1081.3L829.8 1087.5L823.8 1081.3Z" fill="#858585" stroke="#4a4a4a" stroke-width="1.8"/>
<line x1="850.8" y1="1059.3" x2="850.8" y2="1102.3" stroke="#1a1a1a" stroke-width="3.1" />
<path d="M850.8 1074.6L856.8 1080.8L850.8 1087.0L844.8 1080.8Z" fill="#858585" stroke="#4a4a4a" stroke-width="1.8"/>
<line x1="871.8" y1="1024.0" x2="871.8" y2="1088.0" stroke="#1a1a1a" stroke-width="3.1" />
<path d="M871.8 1049.8L877.8 1056.0L871.8 1062.2L865.8 1056.0Z" fill="#858585" stroke="#4a4a4a" stroke-width="1.8"/>
<line x1="892.7" y1="1069.2" x2="892.7" y2="1107.8" stroke="#1a1a1a" stroke-width="3.1" />
<path d="M892.7 1082.3L898.7 1088.5L892.7 1094.7L886.7 1088.5Z" fill="#858585" stroke="#4a4a4a" stroke-width="1.8"/>
<line x1="913.7" y1="1053.2" x2="913.7" y2="1104.1" stroke="#1a1a1a" stroke-width="3.1" />
<path d="M913.7 1072.5L919.7 1078.7L913.7 1084.9L907.7 1078.7Z" fill="#858585" stroke="#4a4a4a" stroke-width="1.8"/>
<line x1="934.7" y1="1068.6" x2="934.7" y2="1122.8" stroke="#1a1a1a" stroke-width="3.1" />
<path d="M934.7 1089.5L940.7 1095.7L934.7 1101.9L928.7 1095.7Z" fill="#858585" stroke="#4a4a4a" stroke-width="1.8"/>
<line x1="221.4" y1="1085.2" x2="221.4" y2="1104.1" stroke="#2a2a2a" stroke-width="3.1" />
<ellipse cx="221.4" cy="1094.6" rx="5.2" ry="4.7" fill="#e0e0e0" stroke="#777" stroke-width="2.2"/>
<line x1="242.4" y1="1062.8" x2="242.4" y2="1083.9" stroke="#2a2a2a" stroke-width="3.1" />
<ellipse cx="242.4" cy="1073.3" rx="5.2" ry="4.7" fill="#e0e0e0" stroke="#777" stroke-width="2.2"/>
<line x1="263.3" y1="1052.9" x2="263.3" y2="1067.1" stroke="#2a2a2a" stroke-width="3.1" />
<ellipse cx="263.3" cy="1060.0" rx="5.2" ry="4.7" fill="#e0e0e0" stroke="#777" stroke-width="2.2"/>
<line x1="284.3" y1="1054.6" x2="284.3" y2="1076.1" stroke="#2a2a2a" stroke-width="3.1" />
<ellipse cx="284.3" cy="1065.3" rx="5.2" ry="4.7" fill="#e0e0e0" stroke="#777" stroke-width="2.2"/>
<line x1="305.3" y1="1057.6" x2="305.3" y2="1078.4" stroke="#2a2a2a" stroke-width="3.1" />
<ellipse cx="305.3" cy="1068.0" rx="5.2" ry="4.7" fill="#e0e0e0" stroke="#777" stroke-width="2.2"/>
<line x1="326.3" y1="1052.9" x2="326.3" y2="1077.8" stroke="#2a2a2a" stroke-width="3.1" />
<ellipse cx="326.3" cy="1065.3" rx="5.2" ry="4.7" fill="#e0e0e0" stroke="#777" stroke-width="2.2"/>
<line x1="347.3" y1="1061.9" x2="347.3" y2="1084.8" stroke="#2a2a2a" stroke-width="3.1" />
<ellipse cx="347.3" cy="1073.3" rx="5.2" ry="4.7" fill="#e0e0e0" stroke="#777" stroke-width="2.2"/>
<line x1="368.2" y1="1062.3" x2="368.2" y2="1079.0" stroke="#2a2a2a" stroke-width="3.1" />
<ellipse cx="368.2" cy="1070.7" rx="5.2" ry="4.7" fill="#e0e0e0" stroke="#777" stroke-width="2.2"/>
<line x1="389.2" y1="1048.4" x2="389.2" y2="1066.3" stroke="#2a2a2a" stroke-width="3.1" />
<ellipse cx="389.2" cy="1057.3" rx="5.2" ry="4.7" fill="#e0e0e0" stroke="#777" stroke-width="2.2"/>
<line x1="410.2" y1="1060.1" x2="410.2" y2="1081.2" stroke="#2a2a2a" stroke-width="3.1" />
<ellipse cx="410.2" cy="1070.7" rx="5.2" ry="4.7" fill="#e0e0e0" stroke="#777" stroke-width="2.2"/>
<line x1="452.2" y1="1129.2" x2="452.2" y2="1150.6" stroke="#2a2a2a" stroke-width="3.1" />
<ellipse cx="452.2" cy="1139.9" rx="5.2" ry="4.7" fill="#e0e0e0" stroke="#777" stroke-width="2.2"/>
<line x1="473.1" y1="1101.0" x2="473.1" y2="1134.6" stroke="#2a2a2a" stroke-width="3.1" />
<ellipse cx="473.1" cy="1117.8" rx="5.2" ry="4.7" fill="#e0e0e0" stroke="#777" stroke-width="2.2"/>
<line x1="494.1" y1="1093.4" x2="494.1" y2="1118.8" stroke="#2a2a2a" stroke-width="3.1" />
<ellipse cx="494.1" cy="1106.1" rx="5.2" ry="4.7" fill="#e0e0e0" stroke="#777" stroke-width="2.2"/>
<line x1="515.1" y1="1093.3" x2="515.1" y2="1117.3" stroke="#2a2a2a" stroke-width="3.1" />
<ellipse cx="515.1" cy="1105.3" rx="5.2" ry="4.7" fill="#e0e0e0" stroke="#777" stroke-width="2.2"/>
<line x1="536.1" y1="1104.7" x2="536.1" y2="1127.2" stroke="#2a2a2a" stroke-width="3.1" />
<ellipse cx="536.1" cy="1116.0" rx="5.2" ry="4.7" fill="#e0e0e0" stroke="#777" stroke-width="2.2"/>
<line x1="557.1" y1="1092.3" x2="557.1" y2="1134.3" stroke="#2a2a2a" stroke-width="3.1" />
<ellipse cx="557.1" cy="1113.3" rx="5.2" ry="4.7" fill="#e0e0e0" stroke="#777" stroke-width="2.2"/>
<line x1="578.0" y1="1093.9" x2="578.0" y2="1118.3" stroke="#2a2a2a" stroke-width="3.1" />
<ellipse cx="578.0" cy="1106.1" rx="5.2" ry="4.7" fill="#e0e0e0" stroke="#777" stroke-width="2.2"/>
<line x1="599.0" y1="1101.3" x2="599.0" y2="1129.0" stroke="#2a2a2a" stroke-width="3.1" />
<ellipse cx="599.0" cy="1115.2" rx="5.2" ry="4.7" fill="#e0e0e0" stroke="#777" stroke-width="2.2"/>
<line x1="620.0" y1="1088.4" x2="620.0" y2="1120.0" stroke="#2a2a2a" stroke-width="3.1" />
<ellipse cx="620.0" cy="1104.2" rx="5.2" ry="4.7" fill="#e0e0e0" stroke="#777" stroke-width="2.2"/>
<line x1="641.0" y1="1074.8" x2="641.0" y2="1119.8" stroke="#2a2a2a" stroke-width="3.1" />
<ellipse cx="641.0" cy="1097.3" rx="5.2" ry="4.7" fill="#e0e0e0" stroke="#777" stroke-width="2.2"/>
<line x1="662.0" y1="1088.7" x2="662.0" y2="1111.7" stroke="#2a2a2a" stroke-width="3.1" />
<ellipse cx="662.0" cy="1100.2" rx="5.2" ry="4.7" fill="#e0e0e0" stroke="#777" stroke-width="2.2"/>
<line x1="682.9" y1="1075.9" x2="682.9" y2="1109.1" stroke="#2a2a2a" stroke-width="3.1" />
<ellipse cx="682.9" cy="1092.5" rx="5.2" ry="4.7" fill="#e0e0e0" stroke="#777" stroke-width="2.2"/>
<line x1="703.9" y1="1088.1" x2="703.9" y2="1124.1" stroke="#2a2a2a" stroke-width="3.1" />
<ellipse cx="703.9" cy="1106.1" rx="5.2" ry="4.7" fill="#e0e0e0" stroke="#777" stroke-width="2.2"/>
<line x1="724.9" y1="1082.7" x2="724.9" y2="1127.9" stroke="#2a2a2a" stroke-width="3.1" />
<ellipse cx="724.9" cy="1105.3" rx="5.2" ry="4.7" fill="#e0e0e0" stroke="#777" stroke-width="2.2"/>
<line x1="745.9" y1="1066.0" x2="745.9" y2="1109.5" stroke="#2a2a2a" stroke-width="3.1" />
<ellipse cx="745.9" cy="1087.7" rx="5.2" ry="4.7" fill="#e0e0e0" stroke="#777" stroke-width="2.2"/>
<line x1="766.9" y1="1077.6" x2="766.9" y2="1122.3" stroke="#2a2a2a" stroke-width="3.1" />
<ellipse cx="766.9" cy="1100.0" rx="5.2" ry="4.7" fill="#e0e0e0" stroke="#777" stroke-width="2.2"/>
<line x1="787.8" y1="1090.0" x2="787.8" y2="1118.5" stroke="#2a2a2a" stroke-width="3.1" />
<ellipse cx="787.8" cy="1104.2" rx="5.2" ry="4.7" fill="#e0e0e0" stroke="#777" stroke-width="2.2"/>
<line x1="808.8" y1="1081.2" x2="808.8" y2="1113.4" stroke="#2a2a2a" stroke-width="3.1" />
<ellipse cx="808.8" cy="1097.3" rx="5.2" ry="4.7" fill="#e0e0e0" stroke="#777" stroke-width="2.2"/>
<line x1="829.8" y1="1086.7" x2="829.8" y2="1117.5" stroke="#2a2a2a" stroke-width="3.1" />
<ellipse cx="829.8" cy="1102.1" rx="5.2" ry="4.7" fill="#e0e0e0" stroke="#777" stroke-width="2.2"/>
<line x1="850.8" y1="1060.0" x2="850.8" y2="1105.3" stroke="#2a2a2a" stroke-width="3.1" />
<ellipse cx="850.8" cy="1082.7" rx="5.2" ry="4.7" fill="#e0e0e0" stroke="#777" stroke-width="2.2"/>
<line x1="871.8" y1="1071.0" x2="871.8" y2="1118.3" stroke="#2a2a2a" stroke-width="3.1" />
<ellipse cx="871.8" cy="1094.6" rx="5.2" ry="4.7" fill="#e0e0e0" stroke="#777" stroke-width="2.2"/>
<line x1="892.7" y1="1089.1" x2="892.7" y2="1114.0" stroke="#2a2a2a" stroke-width="3.1" />
<ellipse cx="892.7" cy="1101.6" rx="5.2" ry="4.7" fill="#e0e0e0" stroke="#777" stroke-width="2.2"/>
<line x1="913.7" y1="1065.8" x2="913.7" y2="1091.5" stroke="#2a2a2a" stroke-width="3.1" />
<ellipse cx="913.7" cy="1078.7" rx="5.2" ry="4.7" fill="#e0e0e0" stroke="#777" stroke-width="2.2"/>
<line x1="934.7" y1="1082.6" x2="934.7" y2="1109.8" stroke="#2a2a2a" stroke-width="3.1" />
<ellipse cx="934.7" cy="1096.2" rx="5.2" ry="4.7" fill="#e0e0e0" stroke="#777" stroke-width="2.2"/>
<line x1="221.4" y1="1080.4" x2="221.4" y2="1098.3" stroke="#000" stroke-width="3.1" />
<ellipse cx="221.4" cy="1089.3" rx="5.9" ry="5.8" fill="#000"/>
<line x1="242.4" y1="1057.4" x2="242.4" y2="1078.6" stroke="#000" stroke-width="3.1" />
<ellipse cx="242.4" cy="1068.0" rx="5.9" ry="5.8" fill="#000"/>
<line x1="263.3" y1="1049.8" x2="263.3" y2="1072.3" stroke="#000" stroke-width="3.1" />
<ellipse cx="263.3" cy="1061.1" rx="5.9" ry="5.8" fill="#000"/>
<line x1="284.3" y1="1046.1" x2="284.3" y2="1064.4" stroke="#000" stroke-width="3.1" />
<ellipse cx="284.3" cy="1055.2" rx="5.9" ry="5.8" fill="#000"/>
<line x1="305.3" y1="1056.8" x2="305.3" y2="1071.8" stroke="#000" stroke-width="3.1" />
<ellipse cx="305.3" cy="1064.3" rx="5.9" ry="5.8" fill="#000"/>
<line x1="326.3" y1="1048.0" x2="326.3" y2="1068.3" stroke="#000" stroke-width="3.1" />
<ellipse cx="326.3" cy="1058.1" rx="5.9" ry="5.8" fill="#000"/>
<line x1="347.3" y1="1063.5" x2="347.3" y2="1083.1" stroke="#000" stroke-width="3.1" />
<ellipse cx="347.3" cy="1073.3" rx="5.9" ry="5.8" fill="#000"/>
<line x1="368.2" y1="1055.1" x2="368.2" y2="1077.2" stroke="#000" stroke-width="3.1" />
<ellipse cx="368.2" cy="1066.1" rx="5.9" ry="5.8" fill="#000"/>
<line x1="389.2" y1="1074.2" x2="389.2" y2="1101.3" stroke="#000" stroke-width="3.1" />
<ellipse cx="389.2" cy="1087.7" rx="5.9" ry="5.8" fill="#000"/>
<line x1="410.2" y1="1053.5" x2="410.2" y2="1077.2" stroke="#000" stroke-width="3.1" />
<ellipse cx="410.2" cy="1065.3" rx="5.9" ry="5.8" fill="#000"/>
<line x1="452.2" y1="1097.3" x2="452.2" y2="1155.9" stroke="#000" stroke-width="3.1" />
<ellipse cx="452.2" cy="1126.6" rx="5.9" ry="5.8" fill="#000"/>
<line x1="473.1" y1="1081.3" x2="473.1" y2="1130.9" stroke="#000" stroke-width="3.1" />
<ellipse cx="473.1" cy="1106.1" rx="5.9" ry="5.8" fill="#000"/>
<line x1="494.1" y1="1069.9" x2="494.1" y2="1121.5" stroke="#000" stroke-width="3.1" />
<ellipse cx="494.1" cy="1095.7" rx="5.9" ry="5.8" fill="#000"/>
<line x1="515.1" y1="1095.5" x2="515.1" y2="1124.7" stroke="#000" stroke-width="3.1" />
<ellipse cx="515.1" cy="1110.1" rx="5.9" ry="5.8" fill="#000"/>
<line x1="536.1" y1="1073.5" x2="536.1" y2="1133.3" stroke="#000" stroke-width="3.1" />
<ellipse cx="536.1" cy="1103.4" rx="5.9" ry="5.8" fill="#000"/>
<line x1="557.1" y1="1067.5" x2="557.1" y2="1122.9" stroke="#000" stroke-width="3.1" />
<ellipse cx="557.1" cy="1095.2" rx="5.9" ry="5.8" fill="#000"/>
<line x1="578.0" y1="1084.7" x2="578.0" y2="1143.5" stroke="#000" stroke-width="3.1" />
<ellipse cx="578.0" cy="1114.1" rx="5.9" ry="5.8" fill="#000"/>
<line x1="599.0" y1="1074.1" x2="599.0" y2="1130.1" stroke="#000" stroke-width="3.1" />
<ellipse cx="599.0" cy="1102.1" rx="5.9" ry="5.8" fill="#000"/>
<line x1="620.0" y1="1091.3" x2="620.0" y2="1132.7" stroke="#000" stroke-width="3.1" />
<ellipse cx="620.0" cy="1112.0" rx="5.9" ry="5.8" fill="#000"/>
<line x1="641.0" y1="1089.8" x2="641.0" y2="1131.4" stroke="#000" stroke-width="3.1" />
<ellipse cx="641.0" cy="1110.6" rx="5.9" ry="5.8" fill="#000"/>
<line x1="662.0" y1="1088.0" x2="662.0" y2="1118.9" stroke="#000" stroke-width="3.1" />
<ellipse cx="662.0" cy="1103.4" rx="5.9" ry="5.8" fill="#000"/>
<line x1="682.9" y1="1084.2" x2="682.9" y2="1134.4" stroke="#000" stroke-width="3.1" />
<ellipse cx="682.9" cy="1109.3" rx="5.9" ry="5.8" fill="#000"/>
<line x1="703.9" y1="1084.5" x2="703.9" y2="1113.9" stroke="#000" stroke-width="3.1" />
<ellipse cx="703.9" cy="1099.2" rx="5.9" ry="5.8" fill="#000"/>
<line x1="724.9" y1="1093.2" x2="724.9" y2="1122.8" stroke="#000" stroke-width="3.1" />
<ellipse cx="724.9" cy="1108.0" rx="5.9" ry="5.8" fill="#000"/>
<line x1="745.9" y1="1099.4" x2="745.9" y2="1134.1" stroke="#000" stroke-width="3.1" />
<ellipse cx="745.9" cy="1116.8" rx="5.9" ry="5.8" fill="#000"/>
<line x1="766.9" y1="1113.0" x2="766.9" y2="1146.1" stroke="#000" stroke-width="3.1" />
<ellipse cx="766.9" cy="1129.5" rx="5.9" ry="5.8" fill="#000"/>
<line x1="787.8" y1="1111.1" x2="787.8" y2="1150.6" stroke="#000" stroke-width="3.1" />
<ellipse cx="787.8" cy="1130.9" rx="5.9" ry="5.8" fill="#000"/>
<line x1="808.8" y1="1091.6" x2="808.8" y2="1120.6" stroke="#000" stroke-width="3.1" />
<ellipse cx="808.8" cy="1106.1" rx="5.9" ry="5.8" fill="#000"/>
<line x1="829.8" y1="1104.0" x2="829.8" y2="1178.6" stroke="#000" stroke-width="3.1" />
<ellipse cx="829.8" cy="1141.3" rx="5.9" ry="5.8" fill="#000"/>
<line x1="850.8" y1="1097.0" x2="850.8" y2="1166.3" stroke="#000" stroke-width="3.1" />
<ellipse cx="850.8" cy="1131.7" rx="5.9" ry="5.8" fill="#000"/>
<line x1="871.8" y1="1123.2" x2="871.8" y2="1154.0" stroke="#000" stroke-width="3.1" />
<ellipse cx="871.8" cy="1138.6" rx="5.9" ry="5.8" fill="#000"/>
<line x1="892.7" y1="1111.5" x2="892.7" y2="1151.8" stroke="#000" stroke-width="3.1" />
<ellipse cx="892.7" cy="1131.7" rx="5.9" ry="5.8" fill="#000"/>
<line x1="913.7" y1="1120.6" x2="913.7" y2="1148.6" stroke="#000" stroke-width="3.1" />
<ellipse cx="913.7" cy="1134.6" rx="5.9" ry="5.8" fill="#000"/>
<line x1="934.7" y1="1105.2" x2="934.7" y2="1164.0" stroke="#000" stroke-width="3.1" />
<ellipse cx="934.7" cy="1134.6" rx="5.9" ry="5.8" fill="#000"/>
<line x1="221.4" y1="1063.5" x2="221.4" y2="1086.3" stroke="#000" stroke-width="3.1" />
<ellipse cx="221.4" cy="1074.9" rx="4.9" ry="4.5" fill="#fff" stroke="#000" stroke-width="2.5"/>
<line x1="242.4" y1="1072.9" x2="242.4" y2="1089.7" stroke="#000" stroke-width="3.1" />
<ellipse cx="242.4" cy="1081.3" rx="4.9" ry="4.5" fill="#fff" stroke="#000" stroke-width="2.5"/>
<line x1="263.3" y1="1060.0" x2="263.3" y2="1078.1" stroke="#000" stroke-width="3.1" />
<ellipse cx="263.3" cy="1069.1" rx="4.9" ry="4.5" fill="#fff" stroke="#000" stroke-width="2.5"/>
<line x1="284.3" y1="1061.0" x2="284.3" y2="1080.3" stroke="#000" stroke-width="3.1" />
<ellipse cx="284.3" cy="1070.7" rx="4.9" ry="4.5" fill="#fff" stroke="#000" stroke-width="2.5"/>
<line x1="305.3" y1="1043.6" x2="305.3" y2="1063.1" stroke="#000" stroke-width="3.1" />
<ellipse cx="305.3" cy="1053.3" rx="4.9" ry="4.5" fill="#fff" stroke="#000" stroke-width="2.5"/>
<line x1="326.3" y1="1069.3" x2="326.3" y2="1085.8" stroke="#000" stroke-width="3.1" />
<ellipse cx="326.3" cy="1077.6" rx="4.9" ry="4.5" fill="#fff" stroke="#000" stroke-width="2.5"/>
<line x1="347.3" y1="1064.7" x2="347.3" y2="1090.5" stroke="#000" stroke-width="3.1" />
<ellipse cx="347.3" cy="1077.6" rx="4.9" ry="4.5" fill="#fff" stroke="#000" stroke-width="2.5"/>
<line x1="368.2" y1="1061.1" x2="368.2" y2="1088.7" stroke="#000" stroke-width="3.1" />
<ellipse cx="368.2" cy="1074.9" rx="4.9" ry="4.5" fill="#fff" stroke="#000" stroke-width="2.5"/>
<line x1="389.2" y1="1047.7" x2="389.2" y2="1068.6" stroke="#000" stroke-width="3.1" />
<ellipse cx="389.2" cy="1058.1" rx="4.9" ry="4.5" fill="#fff" stroke="#000" stroke-width="2.5"/>
<line x1="410.2" y1="1040.9" x2="410.2" y2="1062.0" stroke="#000" stroke-width="3.1" />
<ellipse cx="410.2" cy="1051.5" rx="4.9" ry="4.5" fill="#fff" stroke="#000" stroke-width="2.5"/>
<line x1="452.2" y1="1120.3" x2="452.2" y2="1148.9" stroke="#000" stroke-width="3.1" />
<ellipse cx="452.2" cy="1134.6" rx="4.9" ry="4.5" fill="#fff" stroke="#000" stroke-width="2.5"/>
<line x1="473.1" y1="1038.7" x2="473.1" y2="1097.3" stroke="#000" stroke-width="3.1" />
<ellipse cx="473.1" cy="1068.0" rx="4.9" ry="4.5" fill="#fff" stroke="#000" stroke-width="2.5"/>
<line x1="494.1" y1="1052.0" x2="494.1" y2="1116.0" stroke="#000" stroke-width="3.1" />
<ellipse cx="494.1" cy="1084.0" rx="4.9" ry="4.5" fill="#fff" stroke="#000" stroke-width="2.5"/>
<line x1="515.1" y1="1078.9" x2="515.1" y2="1113.5" stroke="#000" stroke-width="3.1" />
<ellipse cx="515.1" cy="1096.2" rx="4.9" ry="4.5" fill="#fff" stroke="#000" stroke-width="2.5"/>
<line x1="536.1" y1="1037.4" x2="536.1" y2="1106.6" stroke="#000" stroke-width="3.1" />
<ellipse cx="536.1" cy="1072.0" rx="4.9" ry="4.5" fill="#fff" stroke="#000" stroke-width="2.5"/>
<line x1="557.1" y1="1100.4" x2="557.1" y2="1131.5" stroke="#000" stroke-width="3.1" />
<ellipse cx="557.1" cy="1116.0" rx="4.9" ry="4.5" fill="#fff" stroke="#000" stroke-width="2.5"/>
<line x1="578.0" y1="1074.5" x2="578.0" y2="1100.9" stroke="#000" stroke-width="3.1" />
<ellipse cx="578.0" cy="1087.7" rx="4.9" ry="4.5" fill="#fff" stroke="#000" stroke-width="2.5"/>
<line x1="599.0" y1="1057.6" x2="599.0" y2="1115.6" stroke="#000" stroke-width="3.1" />
<ellipse cx="599.0" cy="1086.6" rx="4.9" ry="4.5" fill="#fff" stroke="#000" stroke-width="2.5"/>
<line x1="620.0" y1="1016.9" x2="620.0" y2="1083.5" stroke="#000" stroke-width="3.1" />
<ellipse cx="620.0" cy="1050.2" rx="4.9" ry="4.5" fill="#fff" stroke="#000" stroke-width="2.5"/>
<line x1="641.0" y1="1079.4" x2="641.0" y2="1109.9" stroke="#000" stroke-width="3.1" />
<ellipse cx="641.0" cy="1094.6" rx="4.9" ry="4.5" fill="#fff" stroke="#000" stroke-width="2.5"/>
<line x1="662.0" y1="1051.3" x2="662.0" y2="1095.4" stroke="#000" stroke-width="3.1" />
<ellipse cx="662.0" cy="1073.3" rx="4.9" ry="4.5" fill="#fff" stroke="#000" stroke-width="2.5"/>
<line x1="682.9" y1="1068.1" x2="682.9" y2="1094.6" stroke="#000" stroke-width="3.1" />
<ellipse cx="682.9" cy="1081.3" rx="4.9" ry="4.5" fill="#fff" stroke="#000" stroke-width="2.5"/>
<line x1="703.9" y1="1083.5" x2="703.9" y2="1127.1" stroke="#000" stroke-width="3.1" />
<ellipse cx="703.9" cy="1105.3" rx="4.9" ry="4.5" fill="#fff" stroke="#000" stroke-width="2.5"/>
<line x1="724.9" y1="1046.5" x2="724.9" y2="1105.5" stroke="#000" stroke-width="3.1" />
<ellipse cx="724.9" cy="1076.0" rx="4.9" ry="4.5" fill="#fff" stroke="#000" stroke-width="2.5"/>
<line x1="745.9" y1="1015.5" x2="745.9" y2="1084.8" stroke="#000" stroke-width="3.1" />
<ellipse cx="745.9" cy="1050.2" rx="4.9" ry="4.5" fill="#fff" stroke="#000" stroke-width="2.5"/>
<line x1="766.9" y1="1071.6" x2="766.9" y2="1120.9" stroke="#000" stroke-width="3.1" />
<ellipse cx="766.9" cy="1096.2" rx="4.9" ry="4.5" fill="#fff" stroke="#000" stroke-width="2.5"/>
<line x1="787.8" y1="1086.2" x2="787.8" y2="1120.7" stroke="#000" stroke-width="3.1" />
<ellipse cx="787.8" cy="1103.4" rx="4.9" ry="4.5" fill="#fff" stroke="#000" stroke-width="2.5"/>
<line x1="808.8" y1="1065.5" x2="808.8" y2="1103.6" stroke="#000" stroke-width="3.1" />
<ellipse cx="808.8" cy="1084.5" rx="4.9" ry="4.5" fill="#fff" stroke="#000" stroke-width="2.5"/>
<line x1="829.8" y1="1076.9" x2="829.8" y2="1108.1" stroke="#000" stroke-width="3.1" />
<ellipse cx="829.8" cy="1092.5" rx="4.9" ry="4.5" fill="#fff" stroke="#000" stroke-width="2.5"/>
<line x1="850.8" y1="1036.0" x2="850.8" y2="1110.6" stroke="#000" stroke-width="3.1" />
<ellipse cx="850.8" cy="1073.3" rx="4.9" ry="4.5" fill="#fff" stroke="#000" stroke-width="2.5"/>
<line x1="871.8" y1="1049.9" x2="871.8" y2="1093.6" stroke="#000" stroke-width="3.1" />
<ellipse cx="871.8" cy="1071.7" rx="4.9" ry="4.5" fill="#fff" stroke="#000" stroke-width="2.5"/>
<line x1="892.7" y1="1043.0" x2="892.7" y2="1106.9" stroke="#000" stroke-width="3.1" />
<ellipse cx="892.7" cy="1074.9" rx="4.9" ry="4.5" fill="#fff" stroke="#000" stroke-width="2.5"/>
<line x1="913.7" y1="1042.7" x2="913.7" y2="1101.3" stroke="#000" stroke-width="3.1" />
<ellipse cx="913.7" cy="1072.0" rx="4.9" ry="4.5" fill="#fff" stroke="#000" stroke-width="2.5"/>
<line x1="934.7" y1="1020.0" x2="934.7" y2="1116.0" stroke="#000" stroke-width="3.1" />
<ellipse cx="934.7" cy="1068.0" rx="4.9" ry="4.5" fill="#fff" stroke="#000" stroke-width="2.5"/>
<line x1="221.6" y1="932.8" x2="221.6" y2="1203.2" stroke="#000" stroke-width="4.4" />
<line x1="211.0" y1="1201.7" x2="945.0" y2="1201.7" stroke="#000" stroke-width="4.4" />
<line x1="211.0" y1="934.8" x2="222.0" y2="934.8" stroke="#000" stroke-width="3.8" />
<text x="207.6" y="941.4" font-size="18.5" text-anchor="end" fill="#000" font-weight="bold" textLength="31.5" lengthAdjust="spacingAndGlyphs" stroke="#000" stroke-width="0.5">150</text>
<line x1="211.0" y1="1001.4" x2="222.0" y2="1001.4" stroke="#000" stroke-width="3.8" />
<text x="207.6" y="1008.0" font-size="18.5" text-anchor="end" fill="#000" font-weight="bold" textLength="31.5" lengthAdjust="spacingAndGlyphs" stroke="#000" stroke-width="0.5">125</text>
<line x1="211.0" y1="1068.0" x2="222.0" y2="1068.0" stroke="#000" stroke-width="3.8" />
<text x="207.6" y="1074.6" font-size="18.5" text-anchor="end" fill="#000" font-weight="bold" textLength="31.5" lengthAdjust="spacingAndGlyphs" stroke="#000" stroke-width="0.5">100</text>
<line x1="211.0" y1="1134.6" x2="222.0" y2="1134.6" stroke="#000" stroke-width="3.8" />
<text x="207.6" y="1141.2" font-size="18.5" text-anchor="end" fill="#000" font-weight="bold" textLength="21.0" lengthAdjust="spacingAndGlyphs" stroke="#000" stroke-width="0.5">75</text>
<line x1="211.0" y1="1201.2" x2="222.0" y2="1201.2" stroke="#000" stroke-width="3.8" />
<text x="207.6" y="1207.8" font-size="18.5" text-anchor="end" fill="#000" font-weight="bold" textLength="21.0" lengthAdjust="spacingAndGlyphs" stroke="#000" stroke-width="0.5">50</text>
<line x1="215.5" y1="968.1" x2="222.0" y2="968.1" stroke="#000" stroke-width="3" />
<line x1="215.5" y1="1034.7" x2="222.0" y2="1034.7" stroke="#000" stroke-width="3" />
<line x1="215.5" y1="1101.3" x2="222.0" y2="1101.3" stroke="#000" stroke-width="3" />
<line x1="215.5" y1="1167.9" x2="222.0" y2="1167.9" stroke="#000" stroke-width="3" />
<line x1="305.3" y1="1201.2" x2="305.3" y2="1211.7" stroke="#000" stroke-width="3.8" />
<text x="305.3" y="1232.5" font-size="18.5" text-anchor="middle" fill="#000" font-weight="bold" textLength="11.0" lengthAdjust="spacingAndGlyphs" stroke="#000" stroke-width="0.5">5</text>
<line x1="410.2" y1="1201.2" x2="410.2" y2="1211.7" stroke="#000" stroke-width="3.8" />
<text x="410.2" y="1232.5" font-size="18.5" text-anchor="middle" fill="#000" font-weight="bold" textLength="24.0" lengthAdjust="spacingAndGlyphs" stroke="#000" stroke-width="0.5">10</text>
<line x1="515.1" y1="1201.2" x2="515.1" y2="1211.7" stroke="#000" stroke-width="3.8" />
<text x="515.1" y="1232.5" font-size="18.5" text-anchor="middle" fill="#000" font-weight="bold" textLength="24.0" lengthAdjust="spacingAndGlyphs" stroke="#000" stroke-width="0.5">15</text>
<line x1="620.0" y1="1201.2" x2="620.0" y2="1211.7" stroke="#000" stroke-width="3.8" />
<text x="620.0" y="1232.5" font-size="18.5" text-anchor="middle" fill="#000" font-weight="bold" textLength="24.0" lengthAdjust="spacingAndGlyphs" stroke="#000" stroke-width="0.5">20</text>
<line x1="724.9" y1="1201.2" x2="724.9" y2="1211.7" stroke="#000" stroke-width="3.8" />
<text x="724.9" y="1232.5" font-size="18.5" text-anchor="middle" fill="#000" font-weight="bold" textLength="24.0" lengthAdjust="spacingAndGlyphs" stroke="#000" stroke-width="0.5">25</text>
<line x1="829.8" y1="1201.2" x2="829.8" y2="1211.7" stroke="#000" stroke-width="3.8" />
<text x="829.8" y="1232.5" font-size="18.5" text-anchor="middle" fill="#000" font-weight="bold" textLength="24.0" lengthAdjust="spacingAndGlyphs" stroke="#000" stroke-width="0.5">30</text>
<line x1="934.7" y1="1201.2" x2="934.7" y2="1211.7" stroke="#000" stroke-width="3.8" />
<text x="934.7" y="1232.5" font-size="18.5" text-anchor="middle" fill="#000" font-weight="bold" textLength="24.0" lengthAdjust="spacingAndGlyphs" stroke="#000" stroke-width="0.5">35</text>
<text x="583.0" y="1274.5" font-size="31.5" text-anchor="middle" fill="#000" font-weight="bold" textLength="152.5" lengthAdjust="spacingAndGlyphs">Time (min)</text>
<text x="151.5" y="1064.0" font-size="33" text-anchor="middle" fill="#000" font-weight="bold" textLength="293.0" lengthAdjust="spacingAndGlyphs" transform="rotate(-90 151.5 1064.0)">eIPSCs (% Baseline)</text>
<text x="429.0" y="904.3" font-size="23.5" text-anchor="middle" fill="#000" font-weight="bold" textLength="45.5" lengthAdjust="spacingAndGlyphs" stroke="#000" stroke-width="0.5">HFS</text>
<line x1="425.5" y1="920.5" x2="425.5" y2="975.0" stroke="#000" stroke-width="3.8" />
<line x1="434.1" y1="920.5" x2="434.1" y2="975.0" stroke="#000" stroke-width="3.8" />
<path d="M417.5 971.5 L433.5 971.5 L425.8 989.6 Z" fill="#000" stroke="#000" stroke-width="1" />
<path d="M426.3 971.5 L442.6 971.5 L434.4 989.6 Z" fill="#000" stroke="#000" stroke-width="1" />
<rect x="692.9" y="815.3" width="10.5" height="10.5" fill="#fff" stroke="#8a8a8a" stroke-width="2.2" />
<ellipse cx="698.4" cy="850.7" rx="6" ry="4.6" fill="#fff" stroke="#333" stroke-width="2.2"/>
<ellipse cx="698.4" cy="883.2" rx="6.6" ry="5.6" fill="#000"/>
<ellipse cx="698.4" cy="917.6" rx="6" ry="4.6" fill="#eee" stroke="#777" stroke-width="2.2"/>
<path d="M698.4 943.3L705.2 948.9L698.4 954.5L691.6 948.9Z" fill="#8c8c8c" stroke="#606060" stroke-width="1.6"/>
<text x="727.7" y="828.4" font-size="19" text-anchor="start" fill="#000" font-weight="bold" textLength="56.0" lengthAdjust="spacingAndGlyphs" stroke="#000" stroke-width="0.4">Naive</text>
<text x="727.7" y="857.3" font-size="19" text-anchor="start" fill="#000" font-weight="bold" textLength="58.0" lengthAdjust="spacingAndGlyphs" stroke="#000" stroke-width="0.4">Water</text>
<text x="727.7" y="889.8" font-size="19" text-anchor="start" fill="#000" font-weight="bold" textLength="135.5" lengthAdjust="spacingAndGlyphs" stroke="#000" stroke-width="0.4">3 OT pairings</text>
<text x="727.7" y="924.2" font-size="19" text-anchor="start" fill="#000" font-weight="bold" textLength="50.0" lengthAdjust="spacingAndGlyphs" stroke="#000" stroke-width="0.4">Odor</text>
<text x="727.7" y="955.5" font-size="19" text-anchor="start" fill="#000" font-weight="bold" textLength="53.0" lengthAdjust="spacingAndGlyphs" stroke="#000" stroke-width="0.4">Taste</text>
<rect x="1101.7" y="1110.9" width="47.7" height="77.3" fill="#fff" stroke="#000" stroke-width="4.2" />
<rect x="1175.0" y="1110.9" width="47.4" height="25.4" fill="#fff" stroke="#000" stroke-width="4.2" />
<line x1="1198.7" y1="1136.4" x2="1198.7" y2="1169.4" stroke="#000" stroke-width="3.6" />
<line x1="1186.2" y1="1169.4" x2="1211.2" y2="1169.4" stroke="#000" stroke-width="3.8" stroke-linecap="round"/>
<rect x="1248.3" y="1110.9" width="47.6" height="73.7" fill="#000" stroke="#000" stroke-width="4.2" />
<line x1="1272.1" y1="1184.7" x2="1272.1" y2="1214.2" stroke="#000" stroke-width="3.6" />
<line x1="1259.6" y1="1214.2" x2="1284.6" y2="1214.2" stroke="#000" stroke-width="3.8" stroke-linecap="round"/>
<rect x="1321.6" y="1110.9" width="47.6" height="23.3" fill="#959595" stroke="#000" stroke-width="4.2" />
<line x1="1345.4" y1="1134.3" x2="1345.4" y2="1152.8" stroke="#000" stroke-width="3.6" />
<line x1="1332.9" y1="1152.8" x2="1357.9" y2="1152.8" stroke="#000" stroke-width="3.8" stroke-linecap="round"/>
<rect x="1394.9" y="1110.9" width="47.6" height="19.8" fill="#c8c8c8" stroke="#000" stroke-width="4.2" />
<line x1="1418.7" y1="1130.8" x2="1418.7" y2="1151.8" stroke="#000" stroke-width="3.6" />
<line x1="1406.2" y1="1151.8" x2="1431.2" y2="1151.8" stroke="#000" stroke-width="3.8" stroke-linecap="round"/>
<line x1="1096.5" y1="1162.0" x2="1454.3" y2="1162.0" stroke="#000" stroke-width="3.2" stroke-dasharray="3.3 3.5"/>
<line x1="1090.0" y1="831.3" x2="1090.0" y2="872.3" stroke="#000" stroke-width="4" />
<line x1="1077.5" y1="872.3" x2="1102.4" y2="872.3" stroke="#000" stroke-width="4.2" stroke-linecap="round"/>
<line x1="1077.5" y1="908.4" x2="1102.4" y2="908.4" stroke="#000" stroke-width="4.2" stroke-linecap="round"/>
<line x1="1090.0" y1="908.4" x2="1090.0" y2="1449.8" stroke="#000" stroke-width="4" />
<line x1="1088.0" y1="1110.9" x2="1454.5" y2="1110.9" stroke="#000" stroke-width="5.6" />
<line x1="1090.0" y1="1447.8" x2="1453.5" y2="1447.8" stroke="#000" stroke-width="4.4" stroke-linecap="round"/>
<line x1="1077.5" y1="838.4" x2="1090.0" y2="838.4" stroke="#000" stroke-width="4" />
<text x="1072.6" y="846.0" font-size="21.5" text-anchor="end" fill="#000" font-weight="bold" textLength="35.6" lengthAdjust="spacingAndGlyphs">100</text>
<text x="1072.6" y="916.0" font-size="21.5" text-anchor="end" fill="#000" font-weight="bold" textLength="22.8" lengthAdjust="spacingAndGlyphs">60</text>
<line x1="1077.5" y1="959.2" x2="1090.0" y2="959.2" stroke="#000" stroke-width="4" />
<text x="1072.6" y="966.4" font-size="20" text-anchor="end" fill="#000" font-weight="bold" textLength="23.2" lengthAdjust="spacingAndGlyphs">45</text>
<line x1="1077.5" y1="1009.7" x2="1090.0" y2="1009.7" stroke="#000" stroke-width="4" />
<text x="1072.6" y="1016.9" font-size="20" text-anchor="end" fill="#000" font-weight="bold" textLength="23.2" lengthAdjust="spacingAndGlyphs">30</text>
<line x1="1077.5" y1="1060.3" x2="1090.0" y2="1060.3" stroke="#000" stroke-width="4" />
<text x="1072.6" y="1067.5" font-size="20" text-anchor="end" fill="#000" font-weight="bold" textLength="22.5" lengthAdjust="spacingAndGlyphs">15</text>
<line x1="1077.5" y1="1110.9" x2="1090.0" y2="1110.9" stroke="#000" stroke-width="4" />
<text x="1072.6" y="1118.1" font-size="20" text-anchor="end" fill="#000" font-weight="bold" textLength="10.8" lengthAdjust="spacingAndGlyphs">0</text>
<line x1="1077.5" y1="1161.5" x2="1090.0" y2="1161.5" stroke="#000" stroke-width="4" />
<text x="1072.6" y="1168.7" font-size="20" text-anchor="end" fill="#000" font-weight="bold" textLength="30.4" lengthAdjust="spacingAndGlyphs">-15</text>
<line x1="1077.5" y1="1212.1" x2="1090.0" y2="1212.1" stroke="#000" stroke-width="4" />
<text x="1072.6" y="1219.3" font-size="20" text-anchor="end" fill="#000" font-weight="bold" textLength="30.4" lengthAdjust="spacingAndGlyphs">-30</text>
<line x1="1077.5" y1="1262.6" x2="1090.0" y2="1262.6" stroke="#000" stroke-width="4" />
<text x="1072.6" y="1269.8" font-size="20" text-anchor="end" fill="#000" font-weight="bold" textLength="30.4" lengthAdjust="spacingAndGlyphs">-45</text>
<line x1="1077.5" y1="1313.2" x2="1090.0" y2="1313.2" stroke="#000" stroke-width="4" />
<text x="1072.6" y="1320.4" font-size="20" text-anchor="end" fill="#000" font-weight="bold" textLength="30.4" lengthAdjust="spacingAndGlyphs">-60</text>
<line x1="1077.5" y1="1363.8" x2="1090.0" y2="1363.8" stroke="#000" stroke-width="4" />
<text x="1072.6" y="1371.0" font-size="20" text-anchor="end" fill="#000" font-weight="bold" textLength="30.4" lengthAdjust="spacingAndGlyphs">-75</text>
<line x1="1077.5" y1="1414.4" x2="1090.0" y2="1414.4" stroke="#000" stroke-width="4" />
<text x="1072.6" y="1421.6" font-size="20" text-anchor="end" fill="#000" font-weight="bold" textLength="30.4" lengthAdjust="spacingAndGlyphs">-90</text>
<circle cx="1107.0" cy="1131.4" r="4.1" fill="#fff" stroke="#1c1c1c" stroke-width="2.6"/>
<circle cx="1119.5" cy="1138.9" r="4.1" fill="#fff" stroke="#1c1c1c" stroke-width="2.6"/>
<circle cx="1130.6" cy="1145.4" r="4.1" fill="#fff" stroke="#1c1c1c" stroke-width="2.6"/>
<circle cx="1143.1" cy="1138.9" r="4.1" fill="#fff" stroke="#1c1c1c" stroke-width="2.6"/>
<circle cx="1125.6" cy="1166.5" r="4.1" fill="#fff" stroke="#1c1c1c" stroke-width="2.6"/>
<circle cx="1107.0" cy="1194.1" r="4.1" fill="#fff" stroke="#1c1c1c" stroke-width="2.6"/>
<circle cx="1114.5" cy="1199.2" r="4.1" fill="#fff" stroke="#1c1c1c" stroke-width="2.6"/>
<circle cx="1125.6" cy="1199.2" r="4.1" fill="#fff" stroke="#1c1c1c" stroke-width="2.6"/>
<circle cx="1133.1" cy="1199.2" r="4.1" fill="#fff" stroke="#1c1c1c" stroke-width="2.6"/>
<circle cx="1143.1" cy="1198.1" r="4.1" fill="#fff" stroke="#1c1c1c" stroke-width="2.6"/>
<circle cx="1115.5" cy="1206.7" r="4.1" fill="#fff" stroke="#1c1c1c" stroke-width="2.6"/>
<circle cx="1125.6" cy="1208.2" r="4.1" fill="#fff" stroke="#1c1c1c" stroke-width="2.6"/>
<circle cx="1134.6" cy="1206.7" r="4.1" fill="#fff" stroke="#1c1c1c" stroke-width="2.6"/>
<circle cx="1119.5" cy="1229.3" r="4.1" fill="#fff" stroke="#1c1c1c" stroke-width="2.6"/>
<circle cx="1130.6" cy="1234.3" r="4.1" fill="#fff" stroke="#1c1c1c" stroke-width="2.6"/>
<circle cx="1125.6" cy="1256.9" r="4.1" fill="#fff" stroke="#1c1c1c" stroke-width="2.6"/>
<circle cx="1199.3" cy="834.2" r="4.1" fill="#fff" stroke="#1c1c1c" stroke-width="2.6"/>
<circle cx="1199.3" cy="942.2" r="4.1" fill="#fff" stroke="#1c1c1c" stroke-width="2.6"/>
<circle cx="1185.8" cy="1071.2" r="4.1" fill="#fff" stroke="#1c1c1c" stroke-width="2.6"/>
<circle cx="1198.3" cy="1079.7" r="4.1" fill="#fff" stroke="#1c1c1c" stroke-width="2.6"/>
<circle cx="1210.9" cy="1067.1" r="4.1" fill="#fff" stroke="#1c1c1c" stroke-width="2.6"/>
<circle cx="1199.3" cy="1100.3" r="4.1" fill="#fff" stroke="#1c1c1c" stroke-width="2.6"/>
<circle cx="1210.9" cy="1131.4" r="4.1" fill="#fff" stroke="#1c1c1c" stroke-width="2.6"/>
<circle cx="1187.3" cy="1138.9" r="4.1" fill="#fff" stroke="#1c1c1c" stroke-width="2.6"/>
<circle cx="1180.8" cy="1148.0" r="4.1" fill="#fff" stroke="#1c1c1c" stroke-width="2.6"/>
<circle cx="1190.8" cy="1149.0" r="4.1" fill="#fff" stroke="#1c1c1c" stroke-width="2.6"/>
<circle cx="1203.4" cy="1146.4" r="4.1" fill="#fff" stroke="#1c1c1c" stroke-width="2.6"/>
<circle cx="1213.4" cy="1145.4" r="4.1" fill="#fff" stroke="#1c1c1c" stroke-width="2.6"/>
<circle cx="1199.3" cy="1156.5" r="4.1" fill="#fff" stroke="#1c1c1c" stroke-width="2.6"/>
<circle cx="1215.9" cy="1140.4" r="4.1" fill="#fff" stroke="#1c1c1c" stroke-width="2.6"/>
<circle cx="1191.8" cy="1240.8" r="4.1" fill="#fff" stroke="#1c1c1c" stroke-width="2.6"/>
<circle cx="1204.9" cy="1240.8" r="4.1" fill="#fff" stroke="#1c1c1c" stroke-width="2.6"/>
<circle cx="1199.3" cy="1262.9" r="4.1" fill="#fff" stroke="#1c1c1c" stroke-width="2.6"/>
<circle cx="1199.3" cy="1321.1" r="4.1" fill="#fff" stroke="#1c1c1c" stroke-width="2.6"/>
<circle cx="1199.3" cy="1378.3" r="4.1" fill="#fff" stroke="#1c1c1c" stroke-width="2.6"/>
<circle cx="1271.1" cy="849.3" r="4.1" fill="#fff" stroke="#1c1c1c" stroke-width="2.6"/>
<circle cx="1271.1" cy="965.8" r="4.1" fill="#fff" stroke="#1c1c1c" stroke-width="2.6"/>
<circle cx="1271.1" cy="1046.1" r="4.1" fill="#fff" stroke="#1c1c1c" stroke-width="2.6"/>
<circle cx="1271.1" cy="1064.6" r="4.1" fill="#fff" stroke="#1c1c1c" stroke-width="2.6"/>
<circle cx="1271.1" cy="1124.9" r="3.4" fill="#fff"/>
<circle cx="1271.1" cy="1144.9" r="3.4" fill="#fff"/>
<circle cx="1264.6" cy="1161.5" r="3.4" fill="#fff"/>
<circle cx="1277.1" cy="1173.1" r="3.4" fill="#fff"/>
<circle cx="1266.1" cy="1205.7" r="4.1" fill="#fff" stroke="#1c1c1c" stroke-width="2.6"/>
<circle cx="1277.1" cy="1200.2" r="4.1" fill="#fff" stroke="#1c1c1c" stroke-width="2.6"/>
<circle cx="1258.6" cy="1219.2" r="4.1" fill="#fff" stroke="#1c1c1c" stroke-width="2.6"/>
<circle cx="1271.1" cy="1216.7" r="4.1" fill="#fff" stroke="#1c1c1c" stroke-width="2.6"/>
<circle cx="1283.7" cy="1210.7" r="4.1" fill="#fff" stroke="#1c1c1c" stroke-width="2.6"/>
<circle cx="1264.6" cy="1237.8" r="4.1" fill="#fff" stroke="#1c1c1c" stroke-width="2.6"/>
<circle cx="1277.1" cy="1229.3" r="4.1" fill="#fff" stroke="#1c1c1c" stroke-width="2.6"/>
<circle cx="1271.1" cy="1254.4" r="4.1" fill="#fff" stroke="#1c1c1c" stroke-width="2.6"/>
<circle cx="1271.1" cy="1268.4" r="4.1" fill="#fff" stroke="#1c1c1c" stroke-width="2.6"/>
<circle cx="1271.1" cy="1302.0" r="4.1" fill="#fff" stroke="#1c1c1c" stroke-width="2.6"/>
<circle cx="1271.1" cy="1330.7" r="4.1" fill="#fff" stroke="#1c1c1c" stroke-width="2.6"/>
<circle cx="1271.1" cy="1363.3" r="4.1" fill="#fff" stroke="#1c1c1c" stroke-width="2.6"/>
<circle cx="1271.1" cy="1384.9" r="4.1" fill="#fff" stroke="#1c1c1c" stroke-width="2.6"/>
<circle cx="1344.9" cy="1013.4" r="4.1" fill="#fff" stroke="#1c1c1c" stroke-width="2.6"/>
<circle cx="1344.9" cy="1066.1" r="4.1" fill="#fff" stroke="#1c1c1c" stroke-width="2.6"/>
<circle cx="1337.4" cy="1086.2" r="4.1" fill="#fff" stroke="#1c1c1c" stroke-width="2.6"/>
<circle cx="1349.9" cy="1090.2" r="4.1" fill="#fff" stroke="#1c1c1c" stroke-width="2.6"/>
<circle cx="1349.9" cy="1115.3" r="4.1" fill="#fff" stroke="#1c1c1c" stroke-width="2.6"/>
<circle cx="1337.4" cy="1120.3" r="4.1" fill="#fff" stroke="#1c1c1c" stroke-width="2.6"/>
<circle cx="1331.4" cy="1143.9" r="4.1" fill="#fff" stroke="#1c1c1c" stroke-width="2.6"/>
<circle cx="1343.9" cy="1143.9" r="4.1" fill="#fff" stroke="#1c1c1c" stroke-width="2.6"/>
<circle cx="1355.4" cy="1141.4" r="4.1" fill="#fff" stroke="#1c1c1c" stroke-width="2.6"/>
<circle cx="1337.4" cy="1149.0" r="4.1" fill="#fff" stroke="#1c1c1c" stroke-width="2.6"/>
<circle cx="1349.9" cy="1150.0" r="4.1" fill="#fff" stroke="#1c1c1c" stroke-width="2.6"/>
<circle cx="1344.9" cy="1155.5" r="4.1" fill="#fff" stroke="#1c1c1c" stroke-width="2.6"/>
<circle cx="1344.9" cy="1186.6" r="4.1" fill="#fff" stroke="#1c1c1c" stroke-width="2.6"/>
<circle cx="1344.9" cy="1201.7" r="4.1" fill="#fff" stroke="#1c1c1c" stroke-width="2.6"/>
<circle cx="1344.9" cy="1266.9" r="4.1" fill="#fff" stroke="#1c1c1c" stroke-width="2.6"/>
<circle cx="1418.2" cy="1014.4" r="4.1" fill="#fff" stroke="#1c1c1c" stroke-width="2.6"/>
<circle cx="1418.2" cy="1046.1" r="4.1" fill="#fff" stroke="#1c1c1c" stroke-width="2.6"/>
<circle cx="1418.2" cy="1066.1" r="4.1" fill="#fff" stroke="#1c1c1c" stroke-width="2.6"/>
<circle cx="1418.2" cy="1097.8" r="4.1" fill="#fff" stroke="#1c1c1c" stroke-width="2.6"/>
<circle cx="1418.2" cy="1125.4" r="4.1" fill="#fff" stroke="#1c1c1c" stroke-width="2.6"/>
<circle cx="1434.2" cy="1132.4" r="4.1" fill="#fff" stroke="#1c1c1c" stroke-width="2.6"/>
<circle cx="1400.6" cy="1141.4" r="4.1" fill="#fff" stroke="#1c1c1c" stroke-width="2.6"/>
<circle cx="1410.7" cy="1142.4" r="4.1" fill="#fff" stroke="#1c1c1c" stroke-width="2.6"/>
<circle cx="1424.2" cy="1142.4" r="4.1" fill="#fff" stroke="#1c1c1c" stroke-width="2.6"/>
<circle cx="1418.2" cy="1149.0" r="4.1" fill="#fff" stroke="#1c1c1c" stroke-width="2.6"/>
<circle cx="1406.6" cy="1150.0" r="4.1" fill="#fff" stroke="#1c1c1c" stroke-width="2.6"/>
<circle cx="1418.2" cy="1185.6" r="4.1" fill="#fff" stroke="#1c1c1c" stroke-width="2.6"/>
<circle cx="1418.2" cy="1214.2" r="4.1" fill="#fff" stroke="#1c1c1c" stroke-width="2.6"/>
<circle cx="1418.2" cy="1268.4" r="4.1" fill="#fff" stroke="#1c1c1c" stroke-width="2.6"/>
<text x="1123.0" y="815.5" font-size="29" text-anchor="middle" fill="#111" font-weight="bold" textLength="31.3" lengthAdjust="spacingAndGlyphs" stroke="#111" stroke-width="0.5">##</text>
<text x="1262.5" y="815.5" font-size="29" text-anchor="middle" fill="#111" font-weight="bold" textLength="14.2" lengthAdjust="spacingAndGlyphs" stroke="#111" stroke-width="0.5">#</text>
<text x="1117.9" y="1473.5" font-size="20" text-anchor="middle" fill="#000" font-weight="bold" textLength="59.7" lengthAdjust="spacingAndGlyphs" stroke="#000" stroke-width="0.4">Naive</text>
<text x="1200.0" y="1473.5" font-size="20" text-anchor="middle" fill="#000" font-weight="bold" textLength="61.6" lengthAdjust="spacingAndGlyphs" stroke="#000" stroke-width="0.4">Water</text>
<text x="1276.5" y="1473.5" font-size="20" text-anchor="middle" fill="#000" font-weight="bold" textLength="48.5" lengthAdjust="spacingAndGlyphs" stroke="#000" stroke-width="0.4">3 OT</text>
<text x="1351.2" y="1473.5" font-size="20" text-anchor="middle" fill="#000" font-weight="bold" textLength="54.2" lengthAdjust="spacingAndGlyphs" stroke="#000" stroke-width="0.4">Taste</text>
<text x="1432.9" y="1473.5" font-size="20" text-anchor="middle" fill="#000" font-weight="bold" textLength="53.2" lengthAdjust="spacingAndGlyphs" stroke="#000" stroke-width="0.4">Odor</text>
<text x="1284.5" y="1498.7" font-size="20" text-anchor="middle" fill="#111" font-weight="bold" textLength="86.8" lengthAdjust="spacingAndGlyphs" stroke="#111" stroke-width="0.3">pairings</text>
<text x="1017.0" y="1139.0" font-size="30.5" text-anchor="middle" fill="#000" font-weight="bold" textLength="301.0" lengthAdjust="spacingAndGlyphs" transform="rotate(-90 1017.0 1139.0)">eIPSCs (% Baseline)</text>
<rect x="1614.2" y="789.3" width="33.4" height="20.2" fill="#000" rx="1.5"/>
<text x="1658.6" y="812.7" font-size="28" text-anchor="start" fill="#000" textLength="69.7" lengthAdjust="spacingAndGlyphs" stroke="#000" stroke-width="0.4">I-LTD</text>
<rect x="1882.2" y="790.5" width="29.3" height="16.3" fill="#fff" stroke="#000" stroke-width="4.4" rx="1"/>
<text x="1923.8" y="812.7" font-size="28" text-anchor="start" fill="#000" textLength="112.5" lengthAdjust="spacingAndGlyphs" stroke="#000" stroke-width="0.4">No I-LTD</text>
<path d="M1613.8 869.6 C1616 876 1621 880 1625.2 884.5 C1630 892 1636 902.5 1642.2 902.3 C1651 899.5 1660 894.5 1670.7 890.9 C1680 887.5 1690 883.8 1699.1 880.9 C1708 878.5 1718 877 1727.6 875.8 C1738 874.5 1747 873.5 1756 873 C1763 872.4 1770 872 1777.3 871.5" fill="none" stroke="#808088" stroke-width="2.6" />
<path d="M1603.8 856.8 C1607 862 1611 866 1613.8 869.6 C1616.5 895 1618.5 935 1622.3 952 C1625 962.5 1629 965.5 1632.3 964.8 C1639 962 1645 953 1650.8 946.4 C1657 939.5 1664 933 1670.7 927.9 C1680 920 1690 913.5 1699.1 909.4 C1708 905.5 1718 901.5 1727.6 898 C1738 894 1747 890.8 1756 888 C1763 886 1770 885 1777.3 883.8" fill="none" stroke="#000" stroke-width="3.3" />
<line x1="1606.5" y1="949.2" x2="1777.3" y2="949.2" stroke="#dc261e" stroke-width="3.4" stroke-dasharray="1.6 5.5" stroke-linecap="round"/>
<text x="1677.0" y="946.2" font-size="22" text-anchor="start" fill="#d8241f" textLength="105.0" lengthAdjust="spacingAndGlyphs" stroke="#d8241f" stroke-width="0.5">15% I-LTD</text>
<text x="1535.8" y="927.5" font-size="23" text-anchor="start" fill="#111" textLength="74.0" lengthAdjust="spacingAndGlyphs" stroke="#111" stroke-width="0.4">Before</text>
<text x="1715.6" y="859.0" font-size="21.5" text-anchor="start" fill="#5c5c5c" textLength="52.5" lengthAdjust="spacingAndGlyphs" stroke="#5c5c5c" stroke-width="0.4">After</text>
<path d="M1821 891 L1821 930 L1864.2 930" fill="none" stroke="#000" stroke-width="3.4" />
<text x="1811.5" y="896.7" font-size="27.5" text-anchor="middle" fill="#000" textLength="82.0" lengthAdjust="spacingAndGlyphs" transform="rotate(-90 1811.5 896.7)" stroke="#000" stroke-width="0.4">100 pA</text>
<text x="1818.8" y="954.0" font-size="27.5" text-anchor="start" fill="#000" textLength="92.5" lengthAdjust="spacingAndGlyphs" stroke="#000" stroke-width="0.4">10 msec</text>
<path d="M1926.5 950.5 L1936.0 952.5 L1946.0 953.0 L1955.0 951.0 L1962.0 949.0 L1972.0 945.5 L1982.0 939.0 L1992.0 929.5 L2003.3 921.0 L2012.0 913.2 L2022.0 906.8 L2032.0 903.0 L2046.0 897.6 L2060.0 889.0 L2070.0 888.0 L2081.5 883.5 L2092.5 880.5" fill="none" stroke="#a8a8a8" stroke-width="2.4" stroke-linejoin="round"/>
<path d="M1917.6 845.4 L1921.2 883.8 L1924.0 926.5 L1926.2 955.0 L1929.7 963.5 L1934.7 967.1 L1941.1 961.4 L1951.1 956.4 L1962.5 952.2 L1971.0 943.6 L1981.0 936.5 L1990.9 926.5 L2002.3 918.0 L2010.8 910.2 L2020.8 903.8 L2030.8 900.2 L2045.0 894.9 L2059.2 886.0 L2069.2 885.3 L2080.6 881.0 L2092.0 877.9" fill="none" stroke="#000" stroke-width="3.0" stroke-linejoin="round" stroke-linecap="round"/>
<line x1="1918.0" y1="947.9" x2="2091.6" y2="947.9" stroke="#dc261e" stroke-width="3.4" stroke-dasharray="1.6 5.5" stroke-linecap="round"/>
<line x1="1676.6" y1="1017.0" x2="1744.5" y2="1017.0" stroke="#000" stroke-width="3.6" />
<line x1="1750.2" y1="1017.0" x2="1818.2" y2="1017.0" stroke="#000" stroke-width="3.6" />
<text x="1711.3" y="1026.5" font-size="56" text-anchor="middle" fill="#000" textLength="24.0" lengthAdjust="spacingAndGlyphs" stroke="#000" stroke-width="1">*</text>
<text x="1784.6" y="1026.5" font-size="56" text-anchor="middle" fill="#000" textLength="24.0" lengthAdjust="spacingAndGlyphs" stroke="#000" stroke-width="1">*</text>
<rect x="1649.4" y="1034.5" width="50.4" height="410.1" fill="#fff" stroke="#000" stroke-width="4.4" />
<rect x="1647.2" y="1150.2" width="54.8" height="294.4" fill="#000" />
<text x="1673.0" y="1418.6" font-size="24.5" text-anchor="middle" fill="#fff" textLength="49.6" lengthAdjust="spacingAndGlyphs" stroke="#fff" stroke-width="0.9">71%</text>
<rect x="1723.0" y="1034.5" width="50.0" height="410.1" fill="#fff" stroke="#000" stroke-width="4.4" />
<rect x="1720.8" y="1336.1" width="54.4" height="108.5" fill="#000" />
<text x="1746.4" y="1418.6" font-size="24.5" text-anchor="middle" fill="#fff" textLength="49.6" lengthAdjust="spacingAndGlyphs" stroke="#fff" stroke-width="0.9">26%</text>
<rect x="1796.6" y="1034.5" width="50.6" height="410.1" fill="#fff" stroke="#000" stroke-width="4.4" />
<rect x="1794.4" y="1169.6" width="55.0" height="275.0" fill="#000" />
<text x="1820.3" y="1418.6" font-size="24.5" text-anchor="middle" fill="#fff" textLength="49.6" lengthAdjust="spacingAndGlyphs" stroke="#fff" stroke-width="0.9">66%</text>
<rect x="1870.0" y="1034.5" width="50.4" height="410.1" fill="#fff" stroke="#000" stroke-width="4.4" />
<rect x="1867.8" y="1349.7" width="54.8" height="94.9" fill="#000" />
<text x="1893.6" y="1418.6" font-size="24.5" text-anchor="middle" fill="#fff" textLength="49.6" lengthAdjust="spacingAndGlyphs" stroke="#fff" stroke-width="0.9">23%</text>
<rect x="1943.4" y="1034.5" width="50.6" height="410.1" fill="#fff" stroke="#000" stroke-width="4.4" />
<rect x="1941.2" y="1362.5" width="55.0" height="82.1" fill="#000" />
<text x="1967.1" y="1418.6" font-size="24.5" text-anchor="middle" fill="#fff" textLength="49.6" lengthAdjust="spacingAndGlyphs" stroke="#fff" stroke-width="0.9">20%</text>
<line x1="1638.4" y1="1029.2" x2="1638.4" y2="1446.8" stroke="#000" stroke-width="4.4" />
<line x1="1626.3" y1="1444.6" x2="2005.0" y2="1444.6" stroke="#000" stroke-width="5" />
<line x1="1626.3" y1="1031.2" x2="1638.4" y2="1031.2" stroke="#000" stroke-width="4" />
<text x="1620.2" y="1038.3" font-size="20" text-anchor="end" fill="#000" font-weight="bold" textLength="33.5" lengthAdjust="spacingAndGlyphs" stroke="#000" stroke-width="0.3">100</text>
<line x1="1626.3" y1="1134.5" x2="1638.4" y2="1134.5" stroke="#000" stroke-width="4" />
<text x="1620.2" y="1141.6" font-size="20" text-anchor="end" fill="#000" font-weight="bold" textLength="22.4" lengthAdjust="spacingAndGlyphs" stroke="#000" stroke-width="0.3">75</text>
<line x1="1626.3" y1="1237.9" x2="1638.4" y2="1237.9" stroke="#000" stroke-width="4" />
<text x="1620.2" y="1245.0" font-size="20" text-anchor="end" fill="#000" font-weight="bold" textLength="22.4" lengthAdjust="spacingAndGlyphs" stroke="#000" stroke-width="0.3">50</text>
<line x1="1626.3" y1="1341.2" x2="1638.4" y2="1341.2" stroke="#000" stroke-width="4" />
<text x="1620.2" y="1348.3" font-size="20" text-anchor="end" fill="#000" font-weight="bold" textLength="22.4" lengthAdjust="spacingAndGlyphs" stroke="#000" stroke-width="0.3">25</text>
<text x="1620.2" y="1451.7" font-size="20" text-anchor="end" fill="#000" font-weight="bold" textLength="10.8" lengthAdjust="spacingAndGlyphs" stroke="#000" stroke-width="0.3">0</text>
<text x="1671.6" y="1473.6" font-size="20" text-anchor="middle" fill="#000" font-weight="bold" textLength="58.4" lengthAdjust="spacingAndGlyphs" stroke="#000" stroke-width="0.4">Naive</text>
<text x="1746.4" y="1473.6" font-size="20" text-anchor="middle" fill="#000" font-weight="bold" textLength="60.8" lengthAdjust="spacingAndGlyphs" stroke="#000" stroke-width="0.4">Water</text>
<text x="1823.2" y="1473.6" font-size="20" text-anchor="middle" fill="#000" font-weight="bold" textLength="51.0" lengthAdjust="spacingAndGlyphs" stroke="#000" stroke-width="0.4">3 OT</text>
<text x="1897.0" y="1473.6" font-size="20" text-anchor="middle" fill="#000" font-weight="bold" textLength="56.0" lengthAdjust="spacingAndGlyphs" stroke="#000" stroke-width="0.4">Taste</text>
<text x="1967.8" y="1473.6" font-size="20" text-anchor="middle" fill="#000" font-weight="bold" textLength="54.0" lengthAdjust="spacingAndGlyphs" stroke="#000" stroke-width="0.4">Odor</text>
<text x="1825.0" y="1500.0" font-size="20" text-anchor="middle" fill="#111" font-weight="bold" textLength="86.0" lengthAdjust="spacingAndGlyphs" stroke="#111" stroke-width="0.3">pairings</text>
<text x="1546.0" y="1239.0" font-size="27" text-anchor="middle" fill="#111" font-weight="bold" textLength="137.5" lengthAdjust="spacingAndGlyphs" transform="rotate(-90 1546.0 1239.0)">% of cells</text>
<text x="1579.0" y="1239.9" font-size="27" text-anchor="middle" fill="#111" font-weight="bold" textLength="238.0" lengthAdjust="spacingAndGlyphs" transform="rotate(-90 1579.0 1239.9)">displaying I-LTD</text>
</g>
</svg>
</body></html>
